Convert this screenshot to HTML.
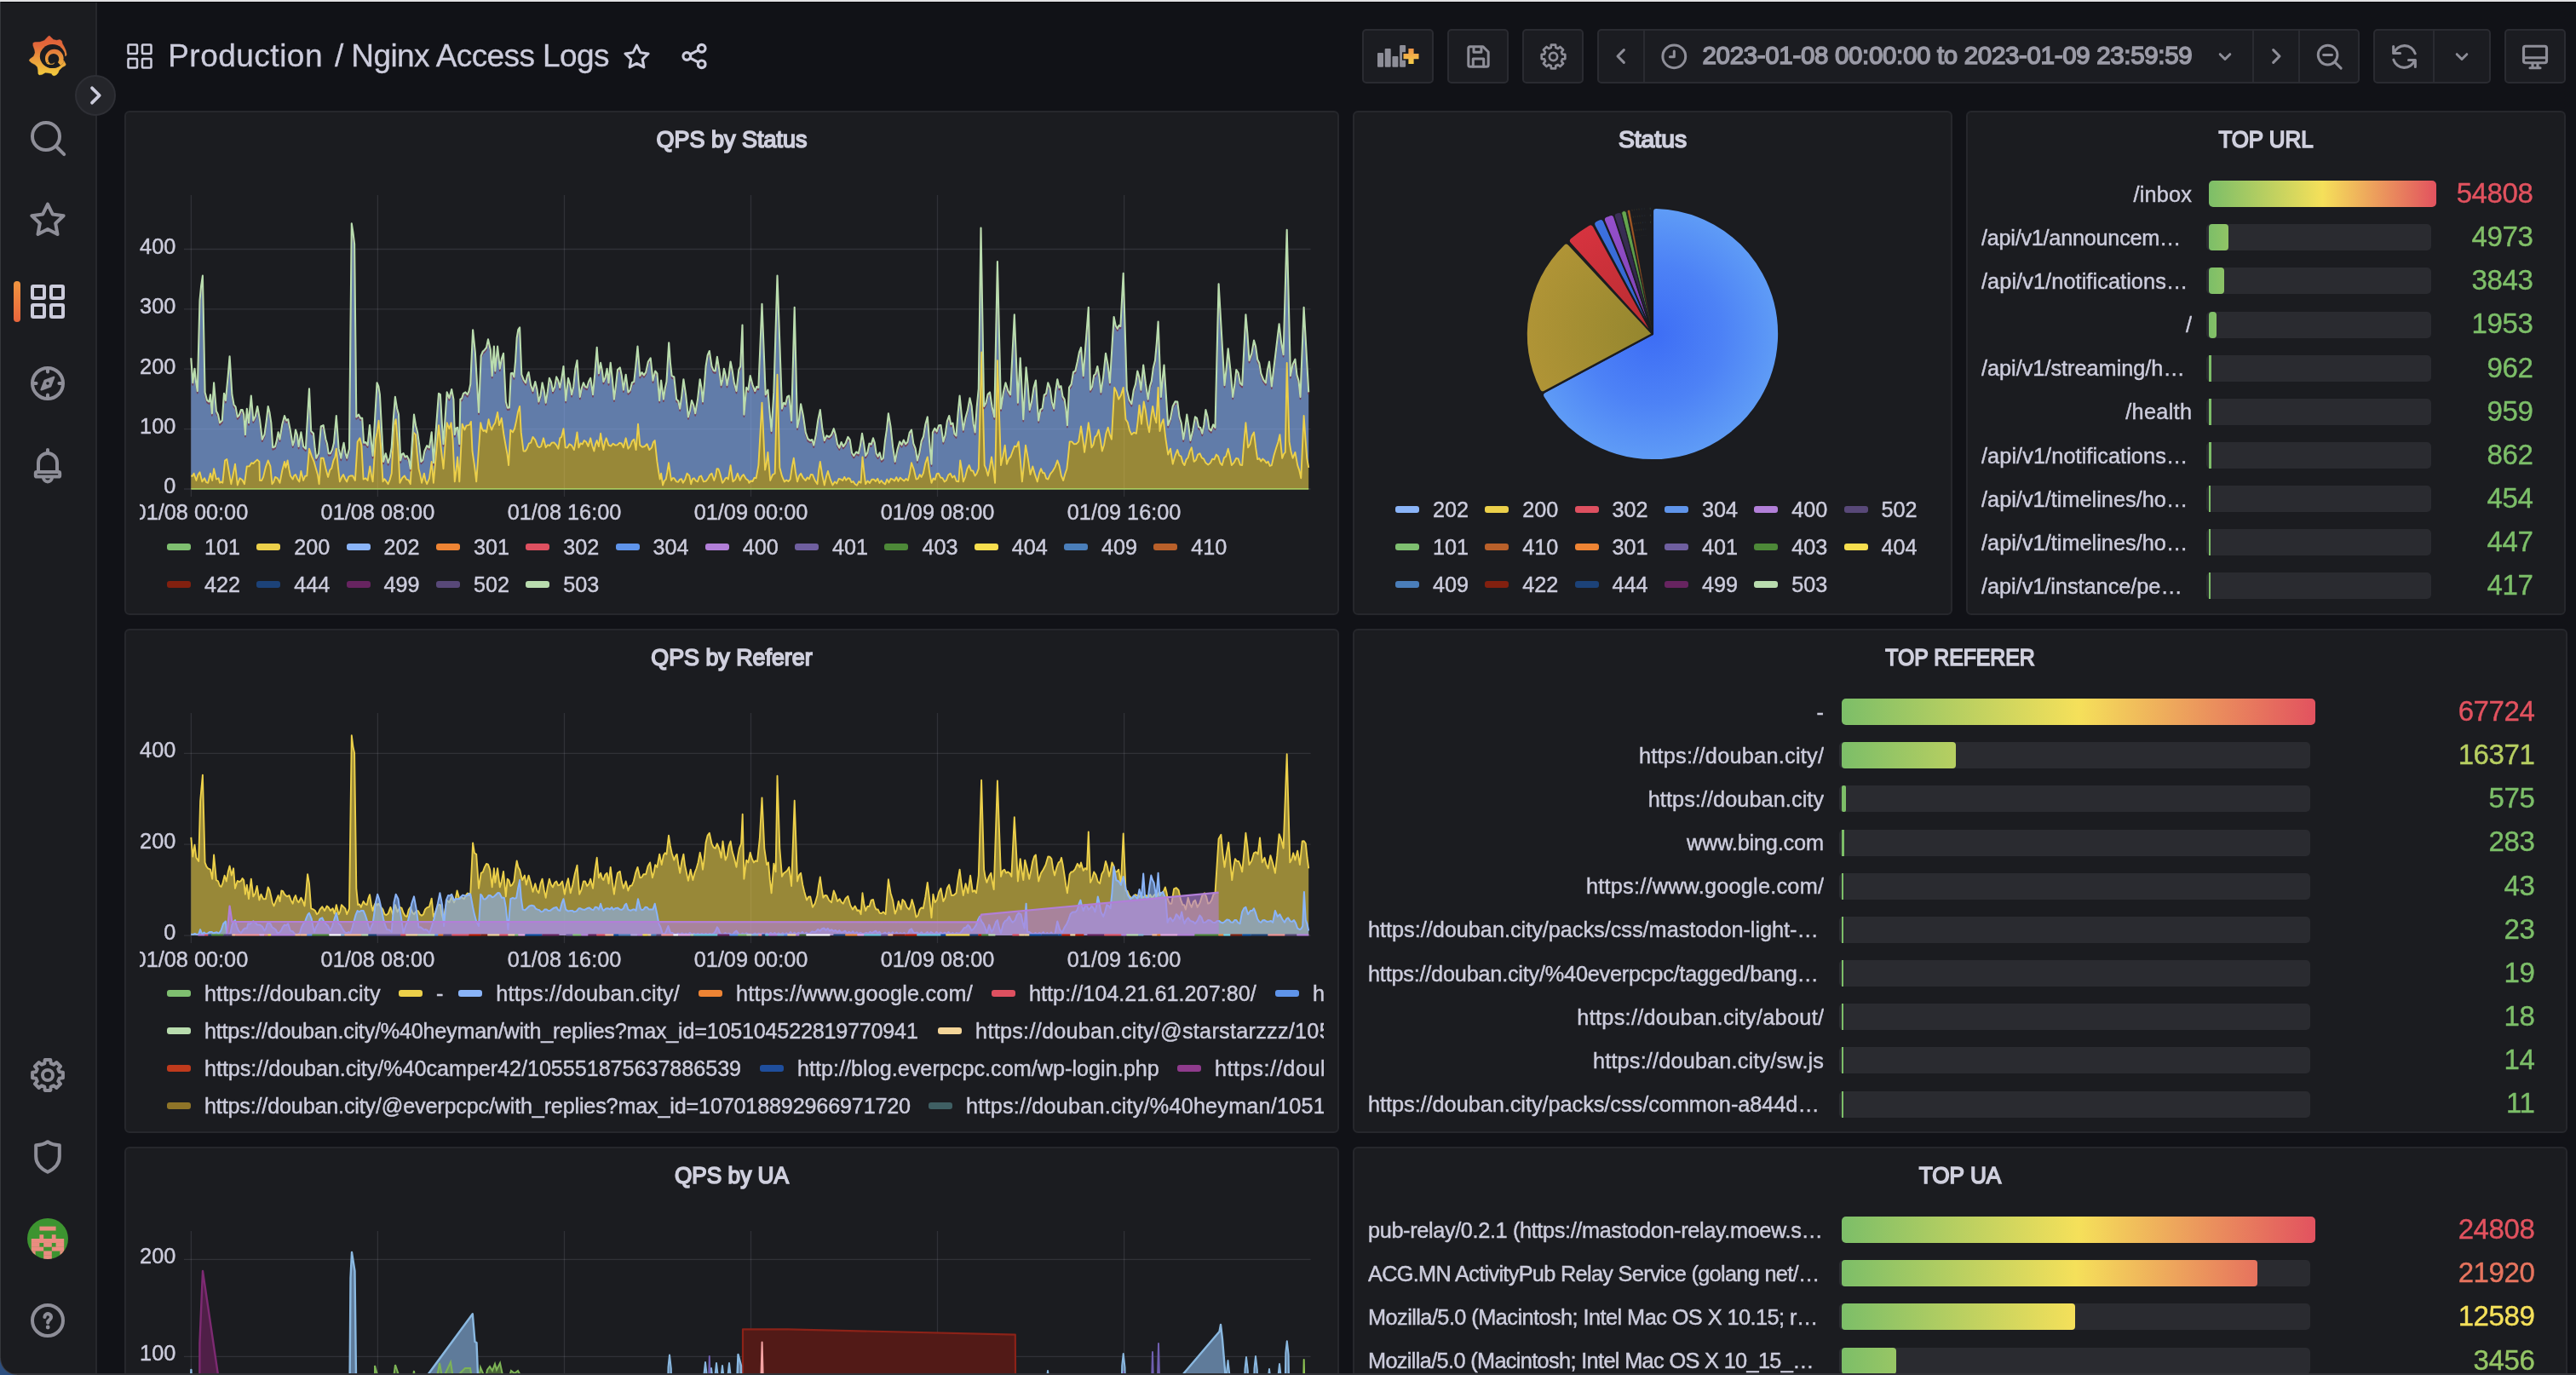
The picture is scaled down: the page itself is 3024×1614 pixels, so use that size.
<!DOCTYPE html>
<html lang="en"><head><meta charset="utf-8"><title>Nginx Access Logs - Grafana</title>
<style>
*{box-sizing:border-box;margin:0;padding:0}
html,body{width:3024px;height:1614px;overflow:hidden;background:#111217;font-family:"Liberation Sans",Arial,sans-serif;color:#ccccdc}
#root{position:absolute;left:0;top:0;width:3024px;height:1614px;overflow:hidden;background:#111217}
#root{will-change:transform}
#root>*{position:absolute}
#topline{left:0;top:0;width:3024px;height:3px;background:linear-gradient(180deg,#dedee0 0,#e6e6e8 1.700px,#05060a 2.300px,#05060a 3px)}
#leftline{left:0;top:2px;width:1px;height:1612px;background:#34363b}
#side{left:1px;top:2px;width:113px;height:1612px;background:#1b1c20;border-right:2px solid #26272c}
#actbar{left:16px;top:330px;width:8px;height:48px;border-radius:4px;background:linear-gradient(180deg,#f09540,#e8653c)}
#toggle{left:88px;top:88px;width:48px;height:48px;border-radius:24px;background:#24252a;border:2px solid #2e2f35}
#toggle svg{position:absolute}
.ic{position:absolute;overflow:visible}
#t1,#t2{top:41px;-webkit-text-stroke:0.3px #ccccdc;font-size:37px;line-height:50px;white-space:nowrap}
#t1{left:197.200px;letter-spacing:0.49px} #t2{left:393px;letter-spacing:-0.593px}
.tb{top:34px;height:64px;background:#1b1c21;border:2px solid #2a2b31;border-radius:5px}
.sep{top:36px;width:2px;height:60px;background:#2a2b31}
#tr{left:1998.5px;top:45px;font-size:29.5px;line-height:40px;font-weight:400;-webkit-text-stroke:1.5px #9a9aa6;color:#9a9aa6;white-space:nowrap;letter-spacing:-0.333px}
.panel{background:#1b1c20;border:2px solid #26272c;border-radius:6px}
.pt{position:absolute;left:0;right:0;top:13px;text-align:center;font-size:28.5px;line-height:36px;font-weight:400;-webkit-text-stroke:1.7px #d0d0de;color:#d0d0de;white-space:nowrap}
.chart{position:absolute;pointer-events:none}
.ax text{stroke:#ccccdc;stroke-width:0.45px;font-size:25.3px;fill:#ccccdc;font-family:"Liberation Sans",Arial,sans-serif}
.lgi{position:absolute;height:44px;display:flex;align-items:center;white-space:nowrap;font-size:25.2px;line-height:44px}
.lgi i{display:block;flex:none;width:28px;height:8px;border-radius:3px;margin-right:16px}
.lgi b{font-weight:400;display:block;-webkit-text-stroke-width:0.45px}
.lgclip{position:absolute;left:0;top:0;width:1554px;height:1346px;overflow:hidden}
.bl{-webkit-text-stroke-width:0.45px;font-size:25.3px;line-height:40px;text-align:right;white-space:nowrap;overflow:hidden}
.bb{height:31px;border-radius:5px;background:#2a2b30}
.bf{height:31px;border-radius:5px}
.bv{-webkit-text-stroke-width:0.4px;letter-spacing:-0.4px;font-size:33px;line-height:44px;text-align:right;white-space:nowrap}
@media (max-width:2000px){html,body{width:1512px;height:807px}#root{zoom:0.5}}
#botline{left:0;top:1612.400px;width:3024px;height:1.600px;background:#323338}
#corner{left:0;top:1594px;width:20px;height:20px;background:radial-gradient(circle at 20px 0px, transparent 18.500px, #3a3c44 19.500px, #2d4f80 20.500px)}
</style></head><body><div id="root">
<div class="panel" style="left:146px;top:130px;width:1426px;height:592px"><div class="pt" style="transform:scaleX(0.9464)">QPS by Status</div></div><div class="panel" style="left:1588px;top:130px;width:704px;height:592px"><div class="pt" style="transform:scaleX(0.9926)">Status</div></div><div class="panel" style="left:2308px;top:130px;width:704px;height:592px"><div class="pt" style="transform:scaleX(0.9078)">TOP URL</div></div><div class="panel" style="left:146px;top:738px;width:1426px;height:592px"><div class="pt" style="transform:scaleX(0.9411)">QPS by Referer</div></div><div class="panel" style="left:1588px;top:738px;width:1426px;height:592px"><div class="pt" style="transform:scaleX(0.8702)">TOP REFERER</div></div><div class="panel" style="left:146px;top:1346px;width:1426px;height:592px"><div class="pt" style="transform:scaleX(0.9203)">QPS by UA</div></div><div class="panel" style="left:1588px;top:1346px;width:1426px;height:592px"><div class="pt" style="transform:scaleX(0.9193)">TOP UA</div></div>

<svg class="chart" style="left:0;top:0" width="3024" height="740" viewBox="0 0 3024 740">
<defs><clipPath id="cl1"><rect x="164" y="200" width="1400" height="430"/></clipPath></defs>
<g stroke="rgba(204,204,220,0.12)" stroke-width="1.3" fill="none"><line x1="224.4" y1="229" x2="224.4" y2="583.0"/><line x1="443.4" y1="229" x2="443.4" y2="583.0"/><line x1="662.5" y1="229" x2="662.5" y2="583.0"/><line x1="881.5" y1="229" x2="881.5" y2="583.0"/><line x1="1100.5" y1="229" x2="1100.5" y2="583.0"/><line x1="1319.6" y1="229" x2="1319.6" y2="583.0"/><line x1="215.9" y1="574.0" x2="1538.6" y2="574.0"/><line x1="215.9" y1="503.6" x2="1538.6" y2="503.6"/><line x1="215.9" y1="433.2" x2="1538.6" y2="433.2"/><line x1="215.9" y1="362.9" x2="1538.6" y2="362.9"/><line x1="215.9" y1="292.5" x2="1538.6" y2="292.5"/></g>
<polygon points="224.3,558.5 226.0,558.8 227.6,555.7 230.4,564.0 232.5,557.2 234.5,554.3 237.3,565.4 240.1,561.3 242.1,566.1 244.2,566.8 247.0,555.7 249.2,564.0 251.1,550.2 253.9,562.6 256.6,561.3 258.0,566.8 259.7,565.6 261.3,566.8 264.1,540.5 266.3,539.1 269.1,555.7 271.3,568.2 273.6,557.3 276.0,544.7 278.8,569.5 281.5,561.3 284.3,563.2 287.0,568.2 289.8,547.4 292.6,547.4 295.3,543.3 297.4,544.0 299.5,541.9 302.0,539.6 304.4,541.9 305.0,564.0 307.1,564.0 309.1,559.9 311.9,548.3 314.7,540.5 317.4,547.4 319.4,568.2 321.2,565.9 323.0,559.9 325.7,561.3 328.5,566.8 331.3,552.3 334.0,541.9 335.4,548.8 337.6,540.5 339.3,550.7 340.9,558.5 343.7,562.6 345.3,558.2 347.0,557.1 349.2,562.4 351.4,565.4 353.4,553.0 356.1,564.0 358.2,558.8 360.3,558.5 363.0,526.7 365.8,535.3 368.6,541.9 371.3,551.6 373.0,557.6 374.6,568.2 376.8,537.8 379.6,537.8 382.4,549.9 385.1,559.9 387.2,551.9 389.3,549.6 391.4,540.7 393.4,536.4 394.8,526.7 396.9,548.4 398.9,565.4 401.0,560.3 403.1,557.1 405.2,562.3 407.2,565.4 409.3,559.5 411.4,558.5 414.1,558.5 416.9,564.0 419.7,518.4 422.4,514.3 424.4,522.6 426.6,562.6 429.3,561.3 431.6,564.0 434.3,547.4 436.0,558.2 437.6,565.4 439.3,539.5 441.0,515.7 442.7,507.2 444.5,493.6 446.8,521.2 449.5,565.4 451.2,562.2 452.8,564.0 455.6,568.2 457.7,563.0 459.7,555.7 462.5,499.1 464.7,492.2 467.5,528.1 469.4,566.8 472.2,561.0 474.9,558.5 477.2,562.9 479.5,563.5 481.8,568.2 485.2,507.4 487.9,510.1 489.7,532.1 491.5,550.2 493.3,557.3 495.1,566.8 497.9,555.7 499.5,564.0 501.2,568.2 504.0,561.3 506.7,541.9 508.9,566.8 515.0,499.1 517.8,526.7 520.5,550.2 522.6,522.3 524.7,496.3 527.4,503.2 529.6,496.3 531.6,517.0 533.8,565.4 535.5,552.1 537.1,536.4 539.3,565.4 542.6,497.7 545.4,504.6 547.5,499.6 549.5,499.1 551.2,498.6 552.9,494.9 554.5,529.5 556.9,545.8 559.2,565.4 564.2,496.3 565.8,503.1 567.5,506.0 569.3,505.0 571.1,507.4 573.6,492.2 575.4,500.0 577.2,504.6 579.2,499.5 581.3,496.3 584.1,483.9 586.0,499.1 588.8,490.8 591.3,509.5 593.8,524.0 595.4,532.5 597.1,546.1 599.3,504.6 602.0,507.4 604.1,503.0 606.2,493.6 608.1,483.2 610.1,477.0 611.7,507.4 614.5,529.5 616.6,529.6 618.6,526.7 620.9,520.6 623.2,519.6 625.5,512.9 628.3,516.4 631.1,524.0 633.1,525.1 635.2,524.0 638.0,514.3 640.7,525.3 643.0,522.2 645.3,523.2 647.6,519.8 650.4,519.4 653.2,522.6 655.4,526.7 657.3,514.3 659.2,512.9 661.5,503.2 663.7,525.3 666.0,525.5 668.4,521.2 671.1,522.9 673.9,528.1 675.7,518.7 677.5,507.4 679.4,525.3 681.5,520.3 683.7,521.4 685.8,517.0 688.1,518.7 690.5,524.0 693.2,514.3 695.3,523.2 697.4,529.5 699.0,521.6 700.7,517.0 702.9,524.0 705.1,508.8 706.8,520.0 708.4,528.1 710.1,519.0 711.7,514.3 714.5,522.6 717.1,523.7 719.7,520.7 722.2,522.6 724.7,522.4 727.2,519.8 729.6,520.5 731.9,525.3 734.7,514.3 737.4,526.7 739.7,524.0 742.0,518.0 744.3,515.7 746.6,528.1 749.0,497.7 751.3,522.6 754.0,524.8 756.8,524.0 759.5,521.2 762.3,528.1 765.1,525.3 766.9,519.2 768.7,517.0 771.4,541.9 773.1,553.3 774.7,562.6 776.1,555.7 778.1,569.5 779.9,564.4 781.7,562.6 783.3,554.2 785.0,543.3 788.0,564.0 789.7,561.2 791.3,561.3 794.1,565.4 796.2,565.7 798.2,562.6 800.0,562.2 801.8,566.8 804.2,563.0 806.5,555.7 809.3,558.5 811.2,568.2 813.0,562.2 814.8,561.3 816.9,564.5 819.0,565.4 821.0,559.5 823.1,558.5 825.9,565.4 828.6,564.9 831.4,561.3 833.5,557.3 835.5,555.7 838.3,564.0 840.0,559.3 841.6,550.2 843.4,550.5 845.2,555.7 848.0,566.8 849.8,564.9 851.6,561.3 853.2,560.6 854.9,562.6 857.6,546.1 860.4,565.4 863.2,562.8 865.9,555.7 868.7,564.0 870.8,559.1 872.8,557.1 875.6,561.9 878.4,564.0 879.3,566.8 881.4,564.5 883.5,565.0 885.6,560.7 887.6,561.3 890.4,546.1 894.5,472.8 898.1,551.6 899.8,543.8 901.4,530.9 904.2,564.0 907.0,557.3 909.7,555.7 912.5,439.7 915.3,548.8 918.0,558.9 920.8,565.4 923.1,563.5 925.4,565.0 927.7,562.6 929.8,548.0 931.8,537.8 933.9,553.9 936.0,565.4 938.1,558.6 940.1,555.7 942.9,561.2 945.7,564.0 947.7,560.5 949.8,562.3 951.9,556.9 953.9,557.1 956.7,564.0 959.5,568.2 961.1,552.5 962.8,541.9 965.3,558.1 967.8,569.5 969.8,560.1 971.9,553.0 974.7,562.7 977.4,569.5 979.9,565.4 982.3,567.5 984.7,561.9 987.1,562.6 989.2,564.1 991.3,559.9 993.3,563.7 995.4,561.3 997.5,561.7 999.5,566.1 1001.6,565.1 1003.7,568.2 1006.0,569.8 1008.3,565.2 1010.6,566.8 1012.5,536.4 1014.3,553.4 1016.1,568.2 1018.5,564.4 1021.0,567.0 1023.4,562.7 1025.8,562.6 1028.0,565.1 1030.2,561.7 1032.4,567.0 1034.6,564.0 1036.8,566.8 1039.1,568.4 1041.3,562.6 1043.5,566.5 1045.7,561.8 1047.9,562.6 1050.1,564.5 1052.3,560.2 1054.5,564.9 1056.7,560.7 1058.9,562.6 1061.3,564.6 1063.6,562.0 1065.9,564.0 1067.9,555.8 1070.0,543.3 1072.8,551.1 1075.5,562.6 1077.6,561.8 1079.7,557.1 1081.7,559.9 1083.8,555.7 1086.3,543.8 1088.8,536.4 1091.1,554.0 1093.5,566.8 1095.6,561.6 1097.6,563.1 1099.7,556.2 1101.8,555.7 1104.1,560.5 1106.4,561.1 1108.7,565.4 1111.0,563.7 1113.3,557.5 1115.6,555.7 1118.0,560.6 1120.4,558.5 1122.8,564.8 1125.3,565.4 1127.2,540.5 1129.0,551.0 1130.8,565.4 1133.1,560.1 1135.4,550.7 1137.7,546.1 1140.0,552.3 1142.3,552.8 1144.6,558.5 1146.7,555.7 1148.8,550.2 1152.3,413.4 1155.7,546.1 1157.7,550.7 1159.8,558.5 1161.9,548.9 1164.0,536.4 1166.0,549.5 1168.1,566.8 1170.9,423.1 1175.0,546.1 1177.4,535.5 1179.7,522.6 1181.9,544.7 1184.2,538.5 1186.5,536.0 1188.8,529.5 1191.1,523.7 1193.4,524.3 1195.7,518.4 1197.8,539.9 1199.9,565.4 1201.9,546.5 1204.0,522.6 1206.8,538.3 1209.5,557.1 1212.3,547.4 1215.1,557.4 1217.8,565.4 1219.9,556.1 1222.0,550.2 1224.1,555.0 1226.1,555.2 1228.2,561.6 1230.3,562.6 1233.0,556.3 1235.8,553.0 1238.6,548.1 1241.3,540.5 1243.6,546.9 1245.9,558.7 1248.2,564.0 1250.3,556.2 1252.4,550.2 1254.0,535.8 1255.7,518.4 1258.2,518.4 1260.7,521.2 1263.4,521.1 1266.2,518.4 1269.0,500.5 1271.0,514.0 1273.1,530.9 1275.4,514.9 1277.8,496.3 1279.6,508.4 1281.4,525.3 1283.5,521.9 1285.5,512.9 1287.6,511.0 1289.7,504.6 1291.7,515.3 1293.8,529.5 1296.1,522.2 1298.4,508.7 1300.7,501.8 1302.8,510.1 1304.9,515.7 1308.2,454.9 1310.7,460.1 1313.2,468.7 1315.9,464.1 1318.7,454.9 1321.5,492.2 1323.8,495.8 1326.1,505.4 1328.4,510.1 1331.1,507.6 1333.9,508.8 1335.7,494.4 1337.5,475.6 1340.0,497.7 1342.7,471.5 1344.8,481.8 1347.0,497.4 1349.1,507.4 1351.2,490.1 1353.2,477.0 1355.3,489.2 1357.4,496.3 1359.6,454.9 1361.5,506.0 1363.6,497.2 1365.7,492.2 1368.4,515.0 1371.2,533.6 1374.0,526.7 1376.7,544.7 1379.5,534.9 1382.2,528.1 1384.3,534.7 1386.4,535.6 1388.5,543.3 1390.5,546.1 1392.6,539.4 1394.7,537.1 1396.8,529.4 1398.8,525.3 1401.6,541.9 1403.9,540.0 1406.2,533.6 1408.5,532.2 1410.8,537.3 1413.1,538.6 1415.4,543.3 1418.2,545.6 1420.9,543.3 1423.2,538.7 1425.5,539.3 1427.8,533.6 1430.1,535.8 1432.4,543.5 1434.7,546.1 1437.0,537.2 1439.3,535.6 1441.7,526.7 1443.7,534.9 1445.8,546.1 1448.6,543.0 1451.3,537.8 1453.6,538.5 1455.9,545.6 1458.2,546.1 1460.3,519.2 1462.4,496.3 1465.1,525.3 1467.4,521.6 1469.7,511.8 1472.0,507.4 1474.1,525.2 1476.2,539.1 1478.3,538.1 1480.3,541.4 1482.4,538.6 1484.5,540.5 1486.6,543.5 1488.6,541.7 1490.7,546.9 1492.8,546.1 1495.5,534.5 1498.3,525.3 1500.4,519.0 1502.4,510.1 1505.2,537.8 1507.0,533.0 1508.8,530.9 1510.7,425.9 1513.5,518.4 1515.6,530.6 1517.6,537.8 1520.4,530.9 1523.2,546.1 1525.2,551.9 1527.3,561.3 1530.6,488.0 1532.4,513.9 1534.2,537.8 1536.2,548.8 1536.2,574.0 224.3,574.0" fill="rgba(236,208,74,0.60)"/>
<polygon points="224.3,420.3 226.3,449.3 228.5,432.8 230.1,448.6 231.8,459.0 234.5,352.6 236.2,335.1 237.9,323.6 240.6,460.4 243.1,469.9 245.6,471.5 247.0,463.2 248.9,485.3 251.1,449.3 253.9,482.5 256.0,486.7 258.0,496.3 260.8,493.6 263.0,461.8 264.9,470.1 267.7,441.1 269.6,418.4 272.4,463.2 274.5,474.8 276.6,477.6 278.8,489.4 280.8,487.2 282.9,481.1 284.6,481.0 286.2,486.6 287.9,510.1 289.8,479.7 292.0,496.3 294.8,464.5 297.3,493.6 299.8,488.5 302.2,477.0 305.0,492.7 307.8,515.7 310.5,510.1 312.6,495.3 314.7,477.0 316.5,484.3 318.3,496.3 320.2,525.3 323.0,524.0 324.8,517.4 326.6,507.4 328.5,515.7 331.3,498.2 334.0,488.0 336.1,493.5 338.2,492.2 340.9,505.8 343.7,522.6 345.3,517.7 347.0,504.6 348.8,510.2 350.6,524.0 353.4,507.4 356.1,524.0 358.9,526.7 363.0,456.3 365.2,506.0 368.0,508.8 369.7,526.5 371.3,537.8 374.1,532.2 376.8,500.5 379.6,499.1 382.4,515.7 384.0,520.8 385.7,532.2 387.9,532.2 390.0,527.9 392.0,519.8 394.8,488.0 397.6,526.7 400.3,537.8 402.0,527.3 403.6,519.8 405.4,531.7 407.2,537.8 410.0,526.7 412.8,262.3 414.4,272.7 416.1,286.3 418.3,489.4 421.1,486.6 423.1,490.7 425.2,490.8 427.1,519.8 429.3,519.1 431.6,522.6 434.0,499.1 435.8,518.6 437.6,535.0 442.6,449.3 444.3,453.5 445.9,463.2 450.1,541.9 452.8,532.2 455.6,543.3 457.7,537.0 459.7,525.3 461.8,491.9 463.9,465.9 466.0,479.2 468.0,486.6 470.2,540.5 471.9,533.2 473.6,532.2 475.6,536.5 477.7,535.0 479.8,539.3 481.8,550.2 486.0,486.6 488.1,499.7 490.1,507.4 492.2,522.4 494.3,541.9 496.4,539.9 498.4,529.5 501.2,523.2 504.0,525.3 506.7,507.4 508.9,543.3 515.0,461.8 516.9,463.2 518.7,495.9 520.5,521.2 524.7,460.4 527.4,467.3 530.2,457.1 532.4,468.7 533.8,510.1 535.5,502.6 537.1,501.8 539.3,521.2 540.4,468.7 542.2,467.6 544.0,461.8 546.4,460.4 548.7,463.2 550.5,459.2 552.3,450.7 555.1,387.2 557.8,413.4 562.0,483.9 564.7,417.6 566.8,412.5 568.9,410.7 571.0,408.0 573.0,398.2 575.8,410.7 577.7,441.1 579.9,406.5 581.3,435.5 584.1,406.5 586.8,432.8 588.9,421.2 591.0,414.8 593.8,471.5 595.8,478.7 597.9,478.4 599.8,438.3 601.6,437.8 603.4,442.4 605.1,423.7 606.7,396.8 608.4,386.8 610.1,384.4 612.3,439.7 614.8,446.0 617.2,449.3 618.9,441.1 620.6,436.9 623.0,451.9 625.5,459.0 628.3,448.0 630.4,457.0 632.4,471.5 634.5,464.5 636.6,449.3 638.7,458.5 640.7,472.8 642.8,460.0 644.9,443.8 646.9,448.2 649.0,459.0 651.1,454.3 653.2,442.4 655.2,446.4 657.3,454.9 659.4,444.1 661.5,430.0 664.2,470.1 667.0,443.8 669.1,451.1 671.1,463.2 673.2,453.9 675.4,432.9 677.5,423.1 679.1,446.3 680.8,465.9 682.9,455.5 684.9,449.3 687.0,453.9 689.1,454.9 691.2,447.7 693.2,443.8 696.0,463.2 698.3,439.2 700.7,407.9 702.9,438.3 705.1,425.9 706.8,435.0 708.4,448.0 710.5,443.4 712.6,432.8 714.5,449.3 716.7,425.9 718.8,444.6 720.9,468.7 722.9,453.4 725.0,434.1 727.8,431.4 729.8,441.0 731.9,457.6 734.7,439.7 737.4,460.4 739.7,458.1 742.0,448.9 744.3,448.0 746.4,429.0 748.5,406.5 751.3,441.1 753.6,437.1 755.9,440.3 758.2,436.9 760.9,424.5 763.7,420.3 766.5,446.6 769.2,435.5 771.4,438.3 774.2,470.1 776.1,446.6 778.9,468.7 780.7,456.1 782.5,448.0 785.2,402.4 786.9,425.8 788.6,441.1 791.3,442.4 794.1,468.7 796.2,470.6 798.2,479.7 800.3,464.8 802.4,445.2 805.1,463.4 807.9,489.4 810.0,481.8 812.0,470.1 814.1,475.1 816.2,485.3 819.0,469.0 821.7,445.2 823.4,455.1 825.0,471.5 826.8,452.5 828.6,430.0 830.7,416.9 832.8,412.0 835.5,430.0 837.6,434.8 839.7,435.5 841.9,418.9 844.2,433.4 846.6,452.1 848.2,446.0 849.9,432.8 851.7,440.1 853.5,452.1 855.6,440.6 857.6,424.5 859.7,435.2 861.8,449.3 864.5,459.0 867.3,434.1 869.2,430.0 871.5,381.6 873.4,486.6 876.2,454.9 878.4,457.6 880.7,441.1 883.5,451.8 886.3,459.0 888.3,453.9 890.4,454.9 894.5,356.8 898.7,463.2 901.4,457.6 903.5,483.9 905.6,506.0 908.4,460.4 912.5,323.6 918.0,479.7 920.1,472.8 922.2,474.6 924.2,465.6 926.3,464.5 929.1,493.6 932.7,360.9 936.0,501.8 938.1,492.1 940.1,474.2 942.9,488.0 945.7,507.4 948.4,515.2 951.2,517.0 953.3,516.0 955.3,522.6 957.8,510.7 960.3,493.0 962.8,481.1 965.3,503.0 967.8,517.0 970.5,511.3 973.3,512.9 976.1,510.2 978.8,503.2 980.9,510.2 983.0,521.2 985.3,525.6 987.6,519.0 989.9,524.0 992.6,520.4 995.4,512.9 997.7,516.2 1000.0,531.5 1002.3,535.0 1005.1,530.5 1007.8,532.2 1009.9,523.1 1012.0,508.8 1014.0,520.1 1016.1,535.0 1018.3,531.4 1020.5,520.5 1022.8,521.6 1025.0,514.3 1026.8,519.9 1028.6,532.2 1030.6,535.8 1032.7,531.3 1034.8,539.5 1036.8,537.8 1038.9,518.0 1040.9,504.7 1042.9,485.3 1045.5,500.7 1048.1,524.7 1050.7,541.9 1053.4,528.1 1056.2,518.4 1058.5,522.3 1060.8,516.5 1063.1,521.2 1065.4,518.8 1067.7,507.9 1070.0,504.6 1072.3,520.6 1074.6,526.5 1076.9,540.5 1079.3,531.8 1081.7,517.9 1084.0,512.5 1086.4,498.0 1088.8,489.4 1091.1,519.0 1093.5,544.7 1094.9,507.4 1097.3,502.8 1099.7,506.3 1102.1,499.3 1104.5,499.1 1107.3,518.4 1109.6,510.8 1111.9,494.3 1114.2,488.0 1116.3,498.0 1118.4,496.5 1120.4,509.0 1122.5,511.5 1124.6,485.0 1126.6,464.5 1128.7,486.4 1130.8,504.6 1133.4,490.6 1136.0,481.3 1138.5,467.3 1140.6,476.7 1142.6,497.4 1144.6,507.4 1146.7,477.7 1148.8,456.3 1151.5,267.5 1155.1,477.0 1157.4,473.0 1159.7,462.7 1162.0,460.4 1164.6,477.7 1167.3,489.4 1170.9,307.0 1175.0,479.7 1177.8,461.1 1180.5,449.3 1183.3,458.6 1186.1,463.2 1190.8,369.2 1194.9,472.8 1197.7,420.3 1201.3,492.2 1204.6,431.4 1206.6,452.1 1208.7,481.1 1211.1,471.3 1213.5,455.1 1215.9,446.6 1217.6,473.6 1219.2,493.6 1221.4,480.8 1223.6,479.4 1225.8,463.6 1228.1,461.8 1230.3,449.3 1232.6,455.5 1234.9,472.0 1237.2,479.7 1239.2,459.1 1241.3,445.2 1243.4,455.0 1245.5,453.1 1247.5,465.4 1249.6,468.7 1251.3,480.3 1252.9,499.1 1255.1,454.9 1257.6,451.1 1260.0,436.6 1262.4,435.3 1264.8,424.5 1266.9,413.7 1269.0,407.9 1271.7,441.1 1277.8,360.9 1280.0,457.6 1282.1,453.8 1284.2,440.7 1286.2,438.6 1288.3,430.0 1290.4,442.0 1292.4,460.4 1295.2,441.8 1298.0,414.8 1300.5,428.2 1302.9,449.3 1307.6,372.0 1309.7,382.3 1311.8,385.8 1313.6,381.9 1315.4,383.0 1318.7,320.9 1322.8,457.6 1325.6,469.4 1328.4,474.2 1330.7,458.3 1333.0,451.1 1335.3,435.5 1337.3,442.8 1339.4,457.6 1342.2,428.6 1344.9,450.4 1347.7,468.7 1349.8,453.8 1351.8,447.4 1353.9,431.4 1356.0,423.1 1357.8,403.1 1359.6,377.5 1362.9,465.9 1364.7,445.2 1366.5,428.6 1371.2,499.1 1374.0,491.4 1376.7,477.0 1379.5,471.4 1382.2,471.5 1384.5,489.3 1386.8,496.9 1389.2,515.7 1391.2,503.3 1393.3,486.6 1395.4,500.3 1397.4,517.0 1400.2,505.5 1403.0,489.4 1405.0,490.9 1407.1,501.1 1409.2,502.0 1411.3,508.8 1413.3,498.9 1415.4,481.1 1417.5,488.9 1419.5,503.2 1421.8,505.4 1424.2,498.4 1426.5,501.8 1430.6,333.3 1437.5,452.1 1439.6,433.1 1441.7,409.3 1444.4,434.3 1447.2,465.9 1449.3,452.0 1451.3,434.1 1453.6,437.5 1455.9,449.8 1458.2,452.1 1462.4,369.2 1464.4,392.2 1466.5,423.1 1469.3,415.2 1472.0,399.6 1474.1,406.8 1476.2,422.0 1478.3,426.3 1480.3,438.3 1483.1,445.7 1485.9,449.3 1487.9,434.1 1490.0,424.5 1492.8,453.5 1501.6,380.3 1504.1,402.0 1506.6,416.2 1510.7,269.7 1514.9,441.1 1517.6,427.6 1520.4,421.7 1522.4,439.9 1524.5,447.1 1526.5,465.9 1530.6,360.9 1536.2,460.4 1536.2,548.8 1534.2,537.8 1532.4,513.9 1530.6,488.0 1527.3,561.3 1525.2,551.9 1523.2,546.1 1520.4,530.9 1517.6,537.8 1515.6,530.6 1513.5,518.4 1510.7,425.9 1508.8,530.9 1507.0,533.0 1505.2,537.8 1502.4,510.1 1500.4,519.0 1498.3,525.3 1495.5,534.5 1492.8,546.1 1490.7,546.9 1488.6,541.7 1486.6,543.5 1484.5,540.5 1482.4,538.6 1480.3,541.4 1478.3,538.1 1476.2,539.1 1474.1,525.2 1472.0,507.4 1469.7,511.8 1467.4,521.6 1465.1,525.3 1462.4,496.3 1460.3,519.2 1458.2,546.1 1455.9,545.6 1453.6,538.5 1451.3,537.8 1448.6,543.0 1445.8,546.1 1443.7,534.9 1441.7,526.7 1439.3,535.6 1437.0,537.2 1434.7,546.1 1432.4,543.5 1430.1,535.8 1427.8,533.6 1425.5,539.3 1423.2,538.7 1420.9,543.3 1418.2,545.6 1415.4,543.3 1413.1,538.6 1410.8,537.3 1408.5,532.2 1406.2,533.6 1403.9,540.0 1401.6,541.9 1398.8,525.3 1396.8,529.4 1394.7,537.1 1392.6,539.4 1390.5,546.1 1388.5,543.3 1386.4,535.6 1384.3,534.7 1382.2,528.1 1379.5,534.9 1376.7,544.7 1374.0,526.7 1371.2,533.6 1368.4,515.0 1365.7,492.2 1363.6,497.2 1361.5,506.0 1359.6,454.9 1357.4,496.3 1355.3,489.2 1353.2,477.0 1351.2,490.1 1349.1,507.4 1347.0,497.4 1344.8,481.8 1342.7,471.5 1340.0,497.7 1337.5,475.6 1335.7,494.4 1333.9,508.8 1331.1,507.6 1328.4,510.1 1326.1,505.4 1323.8,495.8 1321.5,492.2 1318.7,454.9 1315.9,464.1 1313.2,468.7 1310.7,460.1 1308.2,454.9 1304.9,515.7 1302.8,510.1 1300.7,501.8 1298.4,508.7 1296.1,522.2 1293.8,529.5 1291.7,515.3 1289.7,504.6 1287.6,511.0 1285.5,512.9 1283.5,521.9 1281.4,525.3 1279.6,508.4 1277.8,496.3 1275.4,514.9 1273.1,530.9 1271.0,514.0 1269.0,500.5 1266.2,518.4 1263.4,521.1 1260.7,521.2 1258.2,518.4 1255.7,518.4 1254.0,535.8 1252.4,550.2 1250.3,556.2 1248.2,564.0 1245.9,558.7 1243.6,546.9 1241.3,540.5 1238.6,548.1 1235.8,553.0 1233.0,556.3 1230.3,562.6 1228.2,561.6 1226.1,555.2 1224.1,555.0 1222.0,550.2 1219.9,556.1 1217.8,565.4 1215.1,557.4 1212.3,547.4 1209.5,557.1 1206.8,538.3 1204.0,522.6 1201.9,546.5 1199.9,565.4 1197.8,539.9 1195.7,518.4 1193.4,524.3 1191.1,523.7 1188.8,529.5 1186.5,536.0 1184.2,538.5 1181.9,544.7 1179.7,522.6 1177.4,535.5 1175.0,546.1 1170.9,423.1 1168.1,566.8 1166.0,549.5 1164.0,536.4 1161.9,548.9 1159.8,558.5 1157.7,550.7 1155.7,546.1 1152.3,413.4 1148.8,550.2 1146.7,555.7 1144.6,558.5 1142.3,552.8 1140.0,552.3 1137.7,546.1 1135.4,550.7 1133.1,560.1 1130.8,565.4 1129.0,551.0 1127.2,540.5 1125.3,565.4 1122.8,564.8 1120.4,558.5 1118.0,560.6 1115.6,555.7 1113.3,557.5 1111.0,563.7 1108.7,565.4 1106.4,561.1 1104.1,560.5 1101.8,555.7 1099.7,556.2 1097.6,563.1 1095.6,561.6 1093.5,566.8 1091.1,554.0 1088.8,536.4 1086.3,543.8 1083.8,555.7 1081.7,559.9 1079.7,557.1 1077.6,561.8 1075.5,562.6 1072.8,551.1 1070.0,543.3 1067.9,555.8 1065.9,564.0 1063.6,562.0 1061.3,564.6 1058.9,562.6 1056.7,560.7 1054.5,564.9 1052.3,560.2 1050.1,564.5 1047.9,562.6 1045.7,561.8 1043.5,566.5 1041.3,562.6 1039.1,568.4 1036.8,566.8 1034.6,564.0 1032.4,567.0 1030.2,561.7 1028.0,565.1 1025.8,562.6 1023.4,562.7 1021.0,567.0 1018.5,564.4 1016.1,568.2 1014.3,553.4 1012.5,536.4 1010.6,566.8 1008.3,565.2 1006.0,569.8 1003.7,568.2 1001.6,565.1 999.5,566.1 997.5,561.7 995.4,561.3 993.3,563.7 991.3,559.9 989.2,564.1 987.1,562.6 984.7,561.9 982.3,567.5 979.9,565.4 977.4,569.5 974.7,562.7 971.9,553.0 969.8,560.1 967.8,569.5 965.3,558.1 962.8,541.9 961.1,552.5 959.5,568.2 956.7,564.0 953.9,557.1 951.9,556.9 949.8,562.3 947.7,560.5 945.7,564.0 942.9,561.2 940.1,555.7 938.1,558.6 936.0,565.4 933.9,553.9 931.8,537.8 929.8,548.0 927.7,562.6 925.4,565.0 923.1,563.5 920.8,565.4 918.0,558.9 915.3,548.8 912.5,439.7 909.7,555.7 907.0,557.3 904.2,564.0 901.4,530.9 899.8,543.8 898.1,551.6 894.5,472.8 890.4,546.1 887.6,561.3 885.6,560.7 883.5,565.0 881.4,564.5 879.3,566.8 878.4,564.0 875.6,561.9 872.8,557.1 870.8,559.1 868.7,564.0 865.9,555.7 863.2,562.8 860.4,565.4 857.6,546.1 854.9,562.6 853.2,560.6 851.6,561.3 849.8,564.9 848.0,566.8 845.2,555.7 843.4,550.5 841.6,550.2 840.0,559.3 838.3,564.0 835.5,555.7 833.5,557.3 831.4,561.3 828.6,564.9 825.9,565.4 823.1,558.5 821.0,559.5 819.0,565.4 816.9,564.5 814.8,561.3 813.0,562.2 811.2,568.2 809.3,558.5 806.5,555.7 804.2,563.0 801.8,566.8 800.0,562.2 798.2,562.6 796.2,565.7 794.1,565.4 791.3,561.3 789.7,561.2 788.0,564.0 785.0,543.3 783.3,554.2 781.7,562.6 779.9,564.4 778.1,569.5 776.1,555.7 774.7,562.6 773.1,553.3 771.4,541.9 768.7,517.0 766.9,519.2 765.1,525.3 762.3,528.1 759.5,521.2 756.8,524.0 754.0,524.8 751.3,522.6 749.0,497.7 746.6,528.1 744.3,515.7 742.0,518.0 739.7,524.0 737.4,526.7 734.7,514.3 731.9,525.3 729.6,520.5 727.2,519.8 724.7,522.4 722.2,522.6 719.7,520.7 717.1,523.7 714.5,522.6 711.7,514.3 710.1,519.0 708.4,528.1 706.8,520.0 705.1,508.8 702.9,524.0 700.7,517.0 699.0,521.6 697.4,529.5 695.3,523.2 693.2,514.3 690.5,524.0 688.1,518.7 685.8,517.0 683.7,521.4 681.5,520.3 679.4,525.3 677.5,507.4 675.7,518.7 673.9,528.1 671.1,522.9 668.4,521.2 666.0,525.5 663.7,525.3 661.5,503.2 659.2,512.9 657.3,514.3 655.4,526.7 653.2,522.6 650.4,519.4 647.6,519.8 645.3,523.2 643.0,522.2 640.7,525.3 638.0,514.3 635.2,524.0 633.1,525.1 631.1,524.0 628.3,516.4 625.5,512.9 623.2,519.6 620.9,520.6 618.6,526.7 616.6,529.6 614.5,529.5 611.7,507.4 610.1,477.0 608.1,483.2 606.2,493.6 604.1,503.0 602.0,507.4 599.3,504.6 597.1,546.1 595.4,532.5 593.8,524.0 591.3,509.5 588.8,490.8 586.0,499.1 584.1,483.9 581.3,496.3 579.2,499.5 577.2,504.6 575.4,500.0 573.6,492.2 571.1,507.4 569.3,505.0 567.5,506.0 565.8,503.1 564.2,496.3 559.2,565.4 556.9,545.8 554.5,529.5 552.9,494.9 551.2,498.6 549.5,499.1 547.5,499.6 545.4,504.6 542.6,497.7 539.3,565.4 537.1,536.4 535.5,552.1 533.8,565.4 531.6,517.0 529.6,496.3 527.4,503.2 524.7,496.3 522.6,522.3 520.5,550.2 517.8,526.7 515.0,499.1 508.9,566.8 506.7,541.9 504.0,561.3 501.2,568.2 499.5,564.0 497.9,555.7 495.1,566.8 493.3,557.3 491.5,550.2 489.7,532.1 487.9,510.1 485.2,507.4 481.8,568.2 479.5,563.5 477.2,562.9 474.9,558.5 472.2,561.0 469.4,566.8 467.5,528.1 464.7,492.2 462.5,499.1 459.7,555.7 457.7,563.0 455.6,568.2 452.8,564.0 451.2,562.2 449.5,565.4 446.8,521.2 444.5,493.6 442.7,507.2 441.0,515.7 439.3,539.5 437.6,565.4 436.0,558.2 434.3,547.4 431.6,564.0 429.3,561.3 426.6,562.6 424.4,522.6 422.4,514.3 419.7,518.4 416.9,564.0 414.1,558.5 411.4,558.5 409.3,559.5 407.2,565.4 405.2,562.3 403.1,557.1 401.0,560.3 398.9,565.4 396.9,548.4 394.8,526.7 393.4,536.4 391.4,540.7 389.3,549.6 387.2,551.9 385.1,559.9 382.4,549.9 379.6,537.8 376.8,537.8 374.6,568.2 373.0,557.6 371.3,551.6 368.6,541.9 365.8,535.3 363.0,526.7 360.3,558.5 358.2,558.8 356.1,564.0 353.4,553.0 351.4,565.4 349.2,562.4 347.0,557.1 345.3,558.2 343.7,562.6 340.9,558.5 339.3,550.7 337.6,540.5 335.4,548.8 334.0,541.9 331.3,552.3 328.5,566.8 325.7,561.3 323.0,559.9 321.2,565.9 319.4,568.2 317.4,547.4 314.7,540.5 311.9,548.3 309.1,559.9 307.1,564.0 305.0,564.0 304.4,541.9 302.0,539.6 299.5,541.9 297.4,544.0 295.3,543.3 292.6,547.4 289.8,547.4 287.0,568.2 284.3,563.2 281.5,561.3 278.8,569.5 276.0,544.7 273.6,557.3 271.3,568.2 269.1,555.7 266.3,539.1 264.1,540.5 261.3,566.8 259.7,565.6 258.0,566.8 256.6,561.3 253.9,562.6 251.1,550.2 249.2,564.0 247.0,555.7 244.2,566.8 242.1,566.1 240.1,561.3 237.3,565.4 234.5,554.3 232.5,557.2 230.4,564.0 227.6,555.7 226.0,558.8 224.3,558.5" fill="rgba(138,180,248,0.635)"/>
<polyline points="224.3,558.5 226.0,558.8 227.6,555.7 230.4,564.0 232.5,557.2 234.5,554.3 237.3,565.4 240.1,561.3 242.1,566.1 244.2,566.8 247.0,555.7 249.2,564.0 251.1,550.2 253.9,562.6 256.6,561.3 258.0,566.8 259.7,565.6 261.3,566.8 264.1,540.5 266.3,539.1 269.1,555.7 271.3,568.2 273.6,557.3 276.0,544.7 278.8,569.5 281.5,561.3 284.3,563.2 287.0,568.2 289.8,547.4 292.6,547.4 295.3,543.3 297.4,544.0 299.5,541.9 302.0,539.6 304.4,541.9 305.0,564.0 307.1,564.0 309.1,559.9 311.9,548.3 314.7,540.5 317.4,547.4 319.4,568.2 321.2,565.9 323.0,559.9 325.7,561.3 328.5,566.8 331.3,552.3 334.0,541.9 335.4,548.8 337.6,540.5 339.3,550.7 340.9,558.5 343.7,562.6 345.3,558.2 347.0,557.1 349.2,562.4 351.4,565.4 353.4,553.0 356.1,564.0 358.2,558.8 360.3,558.5 363.0,526.7 365.8,535.3 368.6,541.9 371.3,551.6 373.0,557.6 374.6,568.2 376.8,537.8 379.6,537.8 382.4,549.9 385.1,559.9 387.2,551.9 389.3,549.6 391.4,540.7 393.4,536.4 394.8,526.7 396.9,548.4 398.9,565.4 401.0,560.3 403.1,557.1 405.2,562.3 407.2,565.4 409.3,559.5 411.4,558.5 414.1,558.5 416.9,564.0 419.7,518.4 422.4,514.3 424.4,522.6 426.6,562.6 429.3,561.3 431.6,564.0 434.3,547.4 436.0,558.2 437.6,565.4 439.3,539.5 441.0,515.7 442.7,507.2 444.5,493.6 446.8,521.2 449.5,565.4 451.2,562.2 452.8,564.0 455.6,568.2 457.7,563.0 459.7,555.7 462.5,499.1 464.7,492.2 467.5,528.1 469.4,566.8 472.2,561.0 474.9,558.5 477.2,562.9 479.5,563.5 481.8,568.2 485.2,507.4 487.9,510.1 489.7,532.1 491.5,550.2 493.3,557.3 495.1,566.8 497.9,555.7 499.5,564.0 501.2,568.2 504.0,561.3 506.7,541.9 508.9,566.8 515.0,499.1 517.8,526.7 520.5,550.2 522.6,522.3 524.7,496.3 527.4,503.2 529.6,496.3 531.6,517.0 533.8,565.4 535.5,552.1 537.1,536.4 539.3,565.4 542.6,497.7 545.4,504.6 547.5,499.6 549.5,499.1 551.2,498.6 552.9,494.9 554.5,529.5 556.9,545.8 559.2,565.4 564.2,496.3 565.8,503.1 567.5,506.0 569.3,505.0 571.1,507.4 573.6,492.2 575.4,500.0 577.2,504.6 579.2,499.5 581.3,496.3 584.1,483.9 586.0,499.1 588.8,490.8 591.3,509.5 593.8,524.0 595.4,532.5 597.1,546.1 599.3,504.6 602.0,507.4 604.1,503.0 606.2,493.6 608.1,483.2 610.1,477.0 611.7,507.4 614.5,529.5 616.6,529.6 618.6,526.7 620.9,520.6 623.2,519.6 625.5,512.9 628.3,516.4 631.1,524.0 633.1,525.1 635.2,524.0 638.0,514.3 640.7,525.3 643.0,522.2 645.3,523.2 647.6,519.8 650.4,519.4 653.2,522.6 655.4,526.7 657.3,514.3 659.2,512.9 661.5,503.2 663.7,525.3 666.0,525.5 668.4,521.2 671.1,522.9 673.9,528.1 675.7,518.7 677.5,507.4 679.4,525.3 681.5,520.3 683.7,521.4 685.8,517.0 688.1,518.7 690.5,524.0 693.2,514.3 695.3,523.2 697.4,529.5 699.0,521.6 700.7,517.0 702.9,524.0 705.1,508.8 706.8,520.0 708.4,528.1 710.1,519.0 711.7,514.3 714.5,522.6 717.1,523.7 719.7,520.7 722.2,522.6 724.7,522.4 727.2,519.8 729.6,520.5 731.9,525.3 734.7,514.3 737.4,526.7 739.7,524.0 742.0,518.0 744.3,515.7 746.6,528.1 749.0,497.7 751.3,522.6 754.0,524.8 756.8,524.0 759.5,521.2 762.3,528.1 765.1,525.3 766.9,519.2 768.7,517.0 771.4,541.9 773.1,553.3 774.7,562.6 776.1,555.7 778.1,569.5 779.9,564.4 781.7,562.6 783.3,554.2 785.0,543.3 788.0,564.0 789.7,561.2 791.3,561.3 794.1,565.4 796.2,565.7 798.2,562.6 800.0,562.2 801.8,566.8 804.2,563.0 806.5,555.7 809.3,558.5 811.2,568.2 813.0,562.2 814.8,561.3 816.9,564.5 819.0,565.4 821.0,559.5 823.1,558.5 825.9,565.4 828.6,564.9 831.4,561.3 833.5,557.3 835.5,555.7 838.3,564.0 840.0,559.3 841.6,550.2 843.4,550.5 845.2,555.7 848.0,566.8 849.8,564.9 851.6,561.3 853.2,560.6 854.9,562.6 857.6,546.1 860.4,565.4 863.2,562.8 865.9,555.7 868.7,564.0 870.8,559.1 872.8,557.1 875.6,561.9 878.4,564.0 879.3,566.8 881.4,564.5 883.5,565.0 885.6,560.7 887.6,561.3 890.4,546.1 894.5,472.8 898.1,551.6 899.8,543.8 901.4,530.9 904.2,564.0 907.0,557.3 909.7,555.7 912.5,439.7 915.3,548.8 918.0,558.9 920.8,565.4 923.1,563.5 925.4,565.0 927.7,562.6 929.8,548.0 931.8,537.8 933.9,553.9 936.0,565.4 938.1,558.6 940.1,555.7 942.9,561.2 945.7,564.0 947.7,560.5 949.8,562.3 951.9,556.9 953.9,557.1 956.7,564.0 959.5,568.2 961.1,552.5 962.8,541.9 965.3,558.1 967.8,569.5 969.8,560.1 971.9,553.0 974.7,562.7 977.4,569.5 979.9,565.4 982.3,567.5 984.7,561.9 987.1,562.6 989.2,564.1 991.3,559.9 993.3,563.7 995.4,561.3 997.5,561.7 999.5,566.1 1001.6,565.1 1003.7,568.2 1006.0,569.8 1008.3,565.2 1010.6,566.8 1012.5,536.4 1014.3,553.4 1016.1,568.2 1018.5,564.4 1021.0,567.0 1023.4,562.7 1025.8,562.6 1028.0,565.1 1030.2,561.7 1032.4,567.0 1034.6,564.0 1036.8,566.8 1039.1,568.4 1041.3,562.6 1043.5,566.5 1045.7,561.8 1047.9,562.6 1050.1,564.5 1052.3,560.2 1054.5,564.9 1056.7,560.7 1058.9,562.6 1061.3,564.6 1063.6,562.0 1065.9,564.0 1067.9,555.8 1070.0,543.3 1072.8,551.1 1075.5,562.6 1077.6,561.8 1079.7,557.1 1081.7,559.9 1083.8,555.7 1086.3,543.8 1088.8,536.4 1091.1,554.0 1093.5,566.8 1095.6,561.6 1097.6,563.1 1099.7,556.2 1101.8,555.7 1104.1,560.5 1106.4,561.1 1108.7,565.4 1111.0,563.7 1113.3,557.5 1115.6,555.7 1118.0,560.6 1120.4,558.5 1122.8,564.8 1125.3,565.4 1127.2,540.5 1129.0,551.0 1130.8,565.4 1133.1,560.1 1135.4,550.7 1137.7,546.1 1140.0,552.3 1142.3,552.8 1144.6,558.5 1146.7,555.7 1148.8,550.2 1152.3,413.4 1155.7,546.1 1157.7,550.7 1159.8,558.5 1161.9,548.9 1164.0,536.4 1166.0,549.5 1168.1,566.8 1170.9,423.1 1175.0,546.1 1177.4,535.5 1179.7,522.6 1181.9,544.7 1184.2,538.5 1186.5,536.0 1188.8,529.5 1191.1,523.7 1193.4,524.3 1195.7,518.4 1197.8,539.9 1199.9,565.4 1201.9,546.5 1204.0,522.6 1206.8,538.3 1209.5,557.1 1212.3,547.4 1215.1,557.4 1217.8,565.4 1219.9,556.1 1222.0,550.2 1224.1,555.0 1226.1,555.2 1228.2,561.6 1230.3,562.6 1233.0,556.3 1235.8,553.0 1238.6,548.1 1241.3,540.5 1243.6,546.9 1245.9,558.7 1248.2,564.0 1250.3,556.2 1252.4,550.2 1254.0,535.8 1255.7,518.4 1258.2,518.4 1260.7,521.2 1263.4,521.1 1266.2,518.4 1269.0,500.5 1271.0,514.0 1273.1,530.9 1275.4,514.9 1277.8,496.3 1279.6,508.4 1281.4,525.3 1283.5,521.9 1285.5,512.9 1287.6,511.0 1289.7,504.6 1291.7,515.3 1293.8,529.5 1296.1,522.2 1298.4,508.7 1300.7,501.8 1302.8,510.1 1304.9,515.7 1308.2,454.9 1310.7,460.1 1313.2,468.7 1315.9,464.1 1318.7,454.9 1321.5,492.2 1323.8,495.8 1326.1,505.4 1328.4,510.1 1331.1,507.6 1333.9,508.8 1335.7,494.4 1337.5,475.6 1340.0,497.7 1342.7,471.5 1344.8,481.8 1347.0,497.4 1349.1,507.4 1351.2,490.1 1353.2,477.0 1355.3,489.2 1357.4,496.3 1359.6,454.9 1361.5,506.0 1363.6,497.2 1365.7,492.2 1368.4,515.0 1371.2,533.6 1374.0,526.7 1376.7,544.7 1379.5,534.9 1382.2,528.1 1384.3,534.7 1386.4,535.6 1388.5,543.3 1390.5,546.1 1392.6,539.4 1394.7,537.1 1396.8,529.4 1398.8,525.3 1401.6,541.9 1403.9,540.0 1406.2,533.6 1408.5,532.2 1410.8,537.3 1413.1,538.6 1415.4,543.3 1418.2,545.6 1420.9,543.3 1423.2,538.7 1425.5,539.3 1427.8,533.6 1430.1,535.8 1432.4,543.5 1434.7,546.1 1437.0,537.2 1439.3,535.6 1441.7,526.7 1443.7,534.9 1445.8,546.1 1448.6,543.0 1451.3,537.8 1453.6,538.5 1455.9,545.6 1458.2,546.1 1460.3,519.2 1462.4,496.3 1465.1,525.3 1467.4,521.6 1469.7,511.8 1472.0,507.4 1474.1,525.2 1476.2,539.1 1478.3,538.1 1480.3,541.4 1482.4,538.6 1484.5,540.5 1486.6,543.5 1488.6,541.7 1490.7,546.9 1492.8,546.1 1495.5,534.5 1498.3,525.3 1500.4,519.0 1502.4,510.1 1505.2,537.8 1507.0,533.0 1508.8,530.9 1510.7,425.9 1513.5,518.4 1515.6,530.6 1517.6,537.8 1520.4,530.9 1523.2,546.1 1525.2,551.9 1527.3,561.3 1530.6,488.0 1532.4,513.9 1534.2,537.8 1536.2,548.8" fill="none" stroke="#ecd04a" stroke-width="1.9" stroke-linejoin="round"/>
<polyline points="224.3,422.9 226.3,451.9 228.5,435.4 230.1,451.2 231.8,461.6 234.5,355.2 236.2,337.7 237.9,326.2 240.6,463.0 243.1,472.5 245.6,474.1 247.0,465.8 248.9,487.9 251.1,451.9 253.9,485.1 256.0,489.3 258.0,498.9 260.8,496.2 263.0,464.4 264.9,472.7 267.7,443.7 269.6,421.0 272.4,465.8 274.5,477.4 276.6,480.2 278.8,492.0 280.8,489.8 282.9,483.7 284.6,483.6 286.2,489.2 287.9,512.7 289.8,482.3 292.0,498.9 294.8,467.1 297.3,496.2 299.8,491.1 302.2,479.6 305.0,495.3 307.8,518.3 310.5,512.7 312.6,497.9 314.7,479.6 316.5,486.9 318.3,498.9 320.2,527.9 323.0,526.6 324.8,520.0 326.6,510.0 328.5,518.3 331.3,500.8 334.0,490.6 336.1,496.1 338.2,494.8 340.9,508.4 343.7,525.2 345.3,520.3 347.0,507.2 348.8,512.8 350.6,526.6 353.4,510.0 356.1,526.6 358.9,529.3 363.0,458.9 365.2,508.6 368.0,511.4 369.7,529.1 371.3,540.4 374.1,534.8 376.8,503.1 379.6,501.7 382.4,518.3 384.0,523.4 385.7,534.8 387.9,534.8 390.0,530.5 392.0,522.4 394.8,490.6 397.6,529.3 400.3,540.4 402.0,529.9 403.6,522.4 405.4,534.3 407.2,540.4 410.0,529.3 412.8,264.9 414.4,275.3 416.1,288.9 418.3,492.0 421.1,489.2 423.1,493.3 425.2,493.4 427.1,522.4 429.3,521.7 431.6,525.2 434.0,501.7 435.8,521.2 437.6,537.6 442.6,451.9 444.3,456.1 445.9,465.8 450.1,544.5 452.8,534.8 455.6,545.9 457.7,539.6 459.7,527.9 461.8,494.5 463.9,468.5 466.0,481.8 468.0,489.2 470.2,543.1 471.9,535.8 473.6,534.8 475.6,539.1 477.7,537.6 479.8,541.9 481.8,552.8 486.0,489.2 488.1,502.3 490.1,510.0 492.2,525.0 494.3,544.5 496.4,542.5 498.4,532.1 501.2,525.8 504.0,527.9 506.7,510.0 508.9,545.9 515.0,464.4 516.9,465.8 518.7,498.5 520.5,523.8 524.7,463.0 527.4,469.9 530.2,459.7 532.4,471.3 533.8,512.7 535.5,505.2 537.1,504.4 539.3,523.8 540.4,471.3 542.2,470.2 544.0,464.4 546.4,463.0 548.7,465.8 550.5,461.8 552.3,453.3 555.1,389.8 557.8,416.0 562.0,486.5 564.7,420.2 566.8,415.1 568.9,413.3 571.0,410.6 573.0,400.8 575.8,413.3 577.7,443.7 579.9,409.1 581.3,438.1 584.1,409.1 586.8,435.4 588.9,423.8 591.0,417.4 593.8,474.1 595.8,481.3 597.9,481.0 599.8,440.9 601.6,440.4 603.4,445.0 605.1,426.3 606.7,399.4 608.4,389.4 610.1,387.0 612.3,442.3 614.8,448.6 617.2,451.9 618.9,443.7 620.6,439.5 623.0,454.5 625.5,461.6 628.3,450.6 630.4,459.6 632.4,474.1 634.5,467.1 636.6,451.9 638.7,461.1 640.7,475.4 642.8,462.6 644.9,446.4 646.9,450.8 649.0,461.6 651.1,456.9 653.2,445.0 655.2,449.0 657.3,457.5 659.4,446.7 661.5,432.6 664.2,472.7 667.0,446.4 669.1,453.7 671.1,465.8 673.2,456.5 675.4,435.5 677.5,425.7 679.1,448.9 680.8,468.5 682.9,458.1 684.9,451.9 687.0,456.5 689.1,457.5 691.2,450.3 693.2,446.4 696.0,465.8 698.3,441.8 700.7,410.5 702.9,440.9 705.1,428.5 706.8,437.6 708.4,450.6 710.5,446.0 712.6,435.4 714.5,451.9 716.7,428.5 718.8,447.2 720.9,471.3 722.9,456.0 725.0,436.7 727.8,434.0 729.8,443.6 731.9,460.2 734.7,442.3 737.4,463.0 739.7,460.7 742.0,451.5 744.3,450.6 746.4,431.6 748.5,409.1 751.3,443.7 753.6,439.7 755.9,442.9 758.2,439.5 760.9,427.1 763.7,422.9 766.5,449.2 769.2,438.1 771.4,440.9 774.2,472.7 776.1,449.2 778.9,471.3 780.7,458.7 782.5,450.6 785.2,405.0 786.9,428.4 788.6,443.7 791.3,445.0 794.1,471.3 796.2,473.2 798.2,482.3 800.3,467.4 802.4,447.8 805.1,466.0 807.9,492.0 810.0,484.4 812.0,472.7 814.1,477.7 816.2,487.9 819.0,471.6 821.7,447.8 823.4,457.7 825.0,474.1 826.8,455.1 828.6,432.6 830.7,419.5 832.8,414.6 835.5,432.6 837.6,437.4 839.7,438.1 841.9,421.5 844.2,436.0 846.6,454.7 848.2,448.6 849.9,435.4 851.7,442.7 853.5,454.7 855.6,443.2 857.6,427.1 859.7,437.8 861.8,451.9 864.5,461.6 867.3,436.7 869.2,432.6 871.5,384.2 873.4,489.2 876.2,457.5 878.4,460.2 880.7,443.7 883.5,454.4 886.3,461.6 888.3,456.5 890.4,457.5 894.5,359.4 898.7,465.8 901.4,460.2 903.5,486.5 905.6,508.6 908.4,463.0 912.5,326.2 918.0,482.3 920.1,475.4 922.2,477.2 924.2,468.2 926.3,467.1 929.1,496.2 932.7,363.5 936.0,504.4 938.1,494.7 940.1,476.8 942.9,490.6 945.7,510.0 948.4,517.8 951.2,519.6 953.3,518.6 955.3,525.2 957.8,513.3 960.3,495.6 962.8,483.7 965.3,505.6 967.8,519.6 970.5,513.9 973.3,515.5 976.1,512.8 978.8,505.8 980.9,512.8 983.0,523.8 985.3,528.2 987.6,521.6 989.9,526.6 992.6,523.0 995.4,515.5 997.7,518.8 1000.0,534.1 1002.3,537.6 1005.1,533.1 1007.8,534.8 1009.9,525.7 1012.0,511.4 1014.0,522.7 1016.1,537.6 1018.3,534.0 1020.5,523.1 1022.8,524.2 1025.0,516.9 1026.8,522.5 1028.6,534.8 1030.6,538.4 1032.7,533.9 1034.8,542.1 1036.8,540.4 1038.9,520.6 1040.9,507.3 1042.9,487.9 1045.5,503.3 1048.1,527.3 1050.7,544.5 1053.4,530.7 1056.2,521.0 1058.5,524.9 1060.8,519.1 1063.1,523.8 1065.4,521.4 1067.7,510.5 1070.0,507.2 1072.3,523.2 1074.6,529.1 1076.9,543.1 1079.3,534.4 1081.7,520.5 1084.0,515.1 1086.4,500.6 1088.8,492.0 1091.1,521.6 1093.5,547.3 1094.9,510.0 1097.3,505.4 1099.7,508.9 1102.1,501.9 1104.5,501.7 1107.3,521.0 1109.6,513.4 1111.9,496.9 1114.2,490.6 1116.3,500.6 1118.4,499.1 1120.4,511.6 1122.5,514.1 1124.6,487.6 1126.6,467.1 1128.7,489.0 1130.8,507.2 1133.4,493.2 1136.0,483.9 1138.5,469.9 1140.6,479.3 1142.6,500.0 1144.6,510.0 1146.7,480.3 1148.8,458.9 1151.5,270.1 1155.1,479.6 1157.4,475.6 1159.7,465.3 1162.0,463.0 1164.6,480.3 1167.3,492.0 1170.9,309.6 1175.0,482.3 1177.8,463.7 1180.5,451.9 1183.3,461.2 1186.1,465.8 1190.8,371.8 1194.9,475.4 1197.7,422.9 1201.3,494.8 1204.6,434.0 1206.6,454.7 1208.7,483.7 1211.1,473.9 1213.5,457.7 1215.9,449.2 1217.6,476.2 1219.2,496.2 1221.4,483.4 1223.6,482.0 1225.8,466.2 1228.1,464.4 1230.3,451.9 1232.6,458.1 1234.9,474.6 1237.2,482.3 1239.2,461.7 1241.3,447.8 1243.4,457.6 1245.5,455.7 1247.5,468.0 1249.6,471.3 1251.3,482.9 1252.9,501.7 1255.1,457.5 1257.6,453.7 1260.0,439.2 1262.4,437.9 1264.8,427.1 1266.9,416.3 1269.0,410.5 1271.7,443.7 1277.8,363.5 1280.0,460.2 1282.1,456.4 1284.2,443.3 1286.2,441.2 1288.3,432.6 1290.4,444.6 1292.4,463.0 1295.2,444.4 1298.0,417.4 1300.5,430.8 1302.9,451.9 1307.6,374.6 1309.7,384.9 1311.8,388.4 1313.6,384.5 1315.4,385.6 1318.7,323.5 1322.8,460.2 1325.6,472.0 1328.4,476.8 1330.7,460.9 1333.0,453.7 1335.3,438.1 1337.3,445.4 1339.4,460.2 1342.2,431.2 1344.9,453.0 1347.7,471.3 1349.8,456.4 1351.8,450.0 1353.9,434.0 1356.0,425.7 1357.8,405.7 1359.6,380.1 1362.9,468.5 1364.7,447.8 1366.5,431.2 1371.2,501.7 1374.0,494.0 1376.7,479.6 1379.5,474.0 1382.2,474.1 1384.5,491.9 1386.8,499.5 1389.2,518.3 1391.2,505.9 1393.3,489.2 1395.4,502.9 1397.4,519.6 1400.2,508.1 1403.0,492.0 1405.0,493.5 1407.1,503.7 1409.2,504.6 1411.3,511.4 1413.3,501.5 1415.4,483.7 1417.5,491.5 1419.5,505.8 1421.8,508.0 1424.2,501.0 1426.5,504.4 1430.6,335.9 1437.5,454.7 1439.6,435.7 1441.7,411.9 1444.4,436.9 1447.2,468.5 1449.3,454.6 1451.3,436.7 1453.6,440.1 1455.9,452.4 1458.2,454.7 1462.4,371.8 1464.4,394.8 1466.5,425.7 1469.3,417.8 1472.0,402.2 1474.1,409.4 1476.2,424.6 1478.3,428.9 1480.3,440.9 1483.1,448.3 1485.9,451.9 1487.9,436.7 1490.0,427.1 1492.8,456.1 1501.6,382.9 1504.1,404.6 1506.6,418.8 1510.7,272.3 1514.9,443.7 1517.6,430.2 1520.4,424.3 1522.4,442.5 1524.5,449.7 1526.5,468.5 1530.6,363.5 1536.2,463.0" fill="none" stroke="#7a2a3a" stroke-opacity="0.7" stroke-width="1.6" stroke-linejoin="round"/>
<polyline points="224.3,420.3 226.3,449.3 228.5,432.8 230.1,448.6 231.8,459.0 234.5,352.6 236.2,335.1 237.9,323.6 240.6,460.4 243.1,469.9 245.6,471.5 247.0,463.2 248.9,485.3 251.1,449.3 253.9,482.5 256.0,486.7 258.0,496.3 260.8,493.6 263.0,461.8 264.9,470.1 267.7,441.1 269.6,418.4 272.4,463.2 274.5,474.8 276.6,477.6 278.8,489.4 280.8,487.2 282.9,481.1 284.6,481.0 286.2,486.6 287.9,510.1 289.8,479.7 292.0,496.3 294.8,464.5 297.3,493.6 299.8,488.5 302.2,477.0 305.0,492.7 307.8,515.7 310.5,510.1 312.6,495.3 314.7,477.0 316.5,484.3 318.3,496.3 320.2,525.3 323.0,524.0 324.8,517.4 326.6,507.4 328.5,515.7 331.3,498.2 334.0,488.0 336.1,493.5 338.2,492.2 340.9,505.8 343.7,522.6 345.3,517.7 347.0,504.6 348.8,510.2 350.6,524.0 353.4,507.4 356.1,524.0 358.9,526.7 363.0,456.3 365.2,506.0 368.0,508.8 369.7,526.5 371.3,537.8 374.1,532.2 376.8,500.5 379.6,499.1 382.4,515.7 384.0,520.8 385.7,532.2 387.9,532.2 390.0,527.9 392.0,519.8 394.8,488.0 397.6,526.7 400.3,537.8 402.0,527.3 403.6,519.8 405.4,531.7 407.2,537.8 410.0,526.7 412.8,262.3 414.4,272.7 416.1,286.3 418.3,489.4 421.1,486.6 423.1,490.7 425.2,490.8 427.1,519.8 429.3,519.1 431.6,522.6 434.0,499.1 435.8,518.6 437.6,535.0 442.6,449.3 444.3,453.5 445.9,463.2 450.1,541.9 452.8,532.2 455.6,543.3 457.7,537.0 459.7,525.3 461.8,491.9 463.9,465.9 466.0,479.2 468.0,486.6 470.2,540.5 471.9,533.2 473.6,532.2 475.6,536.5 477.7,535.0 479.8,539.3 481.8,550.2 486.0,486.6 488.1,499.7 490.1,507.4 492.2,522.4 494.3,541.9 496.4,539.9 498.4,529.5 501.2,523.2 504.0,525.3 506.7,507.4 508.9,543.3 515.0,461.8 516.9,463.2 518.7,495.9 520.5,521.2 524.7,460.4 527.4,467.3 530.2,457.1 532.4,468.7 533.8,510.1 535.5,502.6 537.1,501.8 539.3,521.2 540.4,468.7 542.2,467.6 544.0,461.8 546.4,460.4 548.7,463.2 550.5,459.2 552.3,450.7 555.1,387.2 557.8,413.4 562.0,483.9 564.7,417.6 566.8,412.5 568.9,410.7 571.0,408.0 573.0,398.2 575.8,410.7 577.7,441.1 579.9,406.5 581.3,435.5 584.1,406.5 586.8,432.8 588.9,421.2 591.0,414.8 593.8,471.5 595.8,478.7 597.9,478.4 599.8,438.3 601.6,437.8 603.4,442.4 605.1,423.7 606.7,396.8 608.4,386.8 610.1,384.4 612.3,439.7 614.8,446.0 617.2,449.3 618.9,441.1 620.6,436.9 623.0,451.9 625.5,459.0 628.3,448.0 630.4,457.0 632.4,471.5 634.5,464.5 636.6,449.3 638.7,458.5 640.7,472.8 642.8,460.0 644.9,443.8 646.9,448.2 649.0,459.0 651.1,454.3 653.2,442.4 655.2,446.4 657.3,454.9 659.4,444.1 661.5,430.0 664.2,470.1 667.0,443.8 669.1,451.1 671.1,463.2 673.2,453.9 675.4,432.9 677.5,423.1 679.1,446.3 680.8,465.9 682.9,455.5 684.9,449.3 687.0,453.9 689.1,454.9 691.2,447.7 693.2,443.8 696.0,463.2 698.3,439.2 700.7,407.9 702.9,438.3 705.1,425.9 706.8,435.0 708.4,448.0 710.5,443.4 712.6,432.8 714.5,449.3 716.7,425.9 718.8,444.6 720.9,468.7 722.9,453.4 725.0,434.1 727.8,431.4 729.8,441.0 731.9,457.6 734.7,439.7 737.4,460.4 739.7,458.1 742.0,448.9 744.3,448.0 746.4,429.0 748.5,406.5 751.3,441.1 753.6,437.1 755.9,440.3 758.2,436.9 760.9,424.5 763.7,420.3 766.5,446.6 769.2,435.5 771.4,438.3 774.2,470.1 776.1,446.6 778.9,468.7 780.7,456.1 782.5,448.0 785.2,402.4 786.9,425.8 788.6,441.1 791.3,442.4 794.1,468.7 796.2,470.6 798.2,479.7 800.3,464.8 802.4,445.2 805.1,463.4 807.9,489.4 810.0,481.8 812.0,470.1 814.1,475.1 816.2,485.3 819.0,469.0 821.7,445.2 823.4,455.1 825.0,471.5 826.8,452.5 828.6,430.0 830.7,416.9 832.8,412.0 835.5,430.0 837.6,434.8 839.7,435.5 841.9,418.9 844.2,433.4 846.6,452.1 848.2,446.0 849.9,432.8 851.7,440.1 853.5,452.1 855.6,440.6 857.6,424.5 859.7,435.2 861.8,449.3 864.5,459.0 867.3,434.1 869.2,430.0 871.5,381.6 873.4,486.6 876.2,454.9 878.4,457.6 880.7,441.1 883.5,451.8 886.3,459.0 888.3,453.9 890.4,454.9 894.5,356.8 898.7,463.2 901.4,457.6 903.5,483.9 905.6,506.0 908.4,460.4 912.5,323.6 918.0,479.7 920.1,472.8 922.2,474.6 924.2,465.6 926.3,464.5 929.1,493.6 932.7,360.9 936.0,501.8 938.1,492.1 940.1,474.2 942.9,488.0 945.7,507.4 948.4,515.2 951.2,517.0 953.3,516.0 955.3,522.6 957.8,510.7 960.3,493.0 962.8,481.1 965.3,503.0 967.8,517.0 970.5,511.3 973.3,512.9 976.1,510.2 978.8,503.2 980.9,510.2 983.0,521.2 985.3,525.6 987.6,519.0 989.9,524.0 992.6,520.4 995.4,512.9 997.7,516.2 1000.0,531.5 1002.3,535.0 1005.1,530.5 1007.8,532.2 1009.9,523.1 1012.0,508.8 1014.0,520.1 1016.1,535.0 1018.3,531.4 1020.5,520.5 1022.8,521.6 1025.0,514.3 1026.8,519.9 1028.6,532.2 1030.6,535.8 1032.7,531.3 1034.8,539.5 1036.8,537.8 1038.9,518.0 1040.9,504.7 1042.9,485.3 1045.5,500.7 1048.1,524.7 1050.7,541.9 1053.4,528.1 1056.2,518.4 1058.5,522.3 1060.8,516.5 1063.1,521.2 1065.4,518.8 1067.7,507.9 1070.0,504.6 1072.3,520.6 1074.6,526.5 1076.9,540.5 1079.3,531.8 1081.7,517.9 1084.0,512.5 1086.4,498.0 1088.8,489.4 1091.1,519.0 1093.5,544.7 1094.9,507.4 1097.3,502.8 1099.7,506.3 1102.1,499.3 1104.5,499.1 1107.3,518.4 1109.6,510.8 1111.9,494.3 1114.2,488.0 1116.3,498.0 1118.4,496.5 1120.4,509.0 1122.5,511.5 1124.6,485.0 1126.6,464.5 1128.7,486.4 1130.8,504.6 1133.4,490.6 1136.0,481.3 1138.5,467.3 1140.6,476.7 1142.6,497.4 1144.6,507.4 1146.7,477.7 1148.8,456.3 1151.5,267.5 1155.1,477.0 1157.4,473.0 1159.7,462.7 1162.0,460.4 1164.6,477.7 1167.3,489.4 1170.9,307.0 1175.0,479.7 1177.8,461.1 1180.5,449.3 1183.3,458.6 1186.1,463.2 1190.8,369.2 1194.9,472.8 1197.7,420.3 1201.3,492.2 1204.6,431.4 1206.6,452.1 1208.7,481.1 1211.1,471.3 1213.5,455.1 1215.9,446.6 1217.6,473.6 1219.2,493.6 1221.4,480.8 1223.6,479.4 1225.8,463.6 1228.1,461.8 1230.3,449.3 1232.6,455.5 1234.9,472.0 1237.2,479.7 1239.2,459.1 1241.3,445.2 1243.4,455.0 1245.5,453.1 1247.5,465.4 1249.6,468.7 1251.3,480.3 1252.9,499.1 1255.1,454.9 1257.6,451.1 1260.0,436.6 1262.4,435.3 1264.8,424.5 1266.9,413.7 1269.0,407.9 1271.7,441.1 1277.8,360.9 1280.0,457.6 1282.1,453.8 1284.2,440.7 1286.2,438.6 1288.3,430.0 1290.4,442.0 1292.4,460.4 1295.2,441.8 1298.0,414.8 1300.5,428.2 1302.9,449.3 1307.6,372.0 1309.7,382.3 1311.8,385.8 1313.6,381.9 1315.4,383.0 1318.7,320.9 1322.8,457.6 1325.6,469.4 1328.4,474.2 1330.7,458.3 1333.0,451.1 1335.3,435.5 1337.3,442.8 1339.4,457.6 1342.2,428.6 1344.9,450.4 1347.7,468.7 1349.8,453.8 1351.8,447.4 1353.9,431.4 1356.0,423.1 1357.8,403.1 1359.6,377.5 1362.9,465.9 1364.7,445.2 1366.5,428.6 1371.2,499.1 1374.0,491.4 1376.7,477.0 1379.5,471.4 1382.2,471.5 1384.5,489.3 1386.8,496.9 1389.2,515.7 1391.2,503.3 1393.3,486.6 1395.4,500.3 1397.4,517.0 1400.2,505.5 1403.0,489.4 1405.0,490.9 1407.1,501.1 1409.2,502.0 1411.3,508.8 1413.3,498.9 1415.4,481.1 1417.5,488.9 1419.5,503.2 1421.8,505.4 1424.2,498.4 1426.5,501.8 1430.6,333.3 1437.5,452.1 1439.6,433.1 1441.7,409.3 1444.4,434.3 1447.2,465.9 1449.3,452.0 1451.3,434.1 1453.6,437.5 1455.9,449.8 1458.2,452.1 1462.4,369.2 1464.4,392.2 1466.5,423.1 1469.3,415.2 1472.0,399.6 1474.1,406.8 1476.2,422.0 1478.3,426.3 1480.3,438.3 1483.1,445.7 1485.9,449.3 1487.9,434.1 1490.0,424.5 1492.8,453.5 1501.6,380.3 1504.1,402.0 1506.6,416.2 1510.7,269.7 1514.9,441.1 1517.6,427.6 1520.4,421.7 1522.4,439.9 1524.5,447.1 1526.5,465.9 1530.6,360.9 1536.2,460.4" fill="none" stroke="#b9dcae" stroke-width="2.1" stroke-linejoin="round"/>
<line x1="224.4" y1="573.8" x2="1536.2" y2="573.8" stroke="#a9c95c" stroke-width="1.7"/>
<g class="ax" clip-path="url(#cl1)"><text x="224.4" y="609.8" text-anchor="middle">01/08 00:00</text><text x="443.4" y="609.8" text-anchor="middle">01/08 08:00</text><text x="662.5" y="609.8" text-anchor="middle">01/08 16:00</text><text x="881.5" y="609.8" text-anchor="middle">01/09 00:00</text><text x="1100.5" y="609.8" text-anchor="middle">01/09 08:00</text><text x="1319.6" y="609.8" text-anchor="middle">01/09 16:00</text><text x="206.3" y="579.3" text-anchor="end">0</text><text x="206.3" y="508.9" text-anchor="end">100</text><text x="206.3" y="438.6" text-anchor="end">200</text><text x="206.3" y="368.2" text-anchor="end">300</text><text x="206.3" y="297.8" text-anchor="end">400</text></g>
</svg><div class="lgi" style="left:196.0px;top:620px"><i style="background:#7fbf70"></i><b style="letter-spacing:0px">101</b></div><div class="lgi" style="left:301.3px;top:620px"><i style="background:#ecd04a"></i><b style="letter-spacing:0px">200</b></div><div class="lgi" style="left:406.6px;top:620px"><i style="background:#8ab4f8"></i><b style="letter-spacing:0px">202</b></div><div class="lgi" style="left:511.9px;top:620px"><i style="background:#ee8434"></i><b style="letter-spacing:0px">301</b></div><div class="lgi" style="left:617.2px;top:620px"><i style="background:#de5060"></i><b style="letter-spacing:0px">302</b></div><div class="lgi" style="left:722.5px;top:620px"><i style="background:#5f94ea"></i><b style="letter-spacing:0px">304</b></div><div class="lgi" style="left:827.8px;top:620px"><i style="background:#b27fd8"></i><b style="letter-spacing:0px">400</b></div><div class="lgi" style="left:933.1px;top:620px"><i style="background:#6f5f9f"></i><b style="letter-spacing:0px">401</b></div><div class="lgi" style="left:1038.4px;top:620px"><i style="background:#4d8838"></i><b style="letter-spacing:0px">403</b></div><div class="lgi" style="left:1143.7px;top:620px"><i style="background:#f7de4e"></i><b style="letter-spacing:0px">404</b></div><div class="lgi" style="left:1249.0px;top:620px"><i style="background:#4a7eba"></i><b style="letter-spacing:0px">409</b></div><div class="lgi" style="left:1354.3px;top:620px"><i style="background:#b9602a"></i><b style="letter-spacing:0px">410</b></div><div class="lgi" style="left:196.0px;top:664px"><i style="background:#82200f"></i><b style="letter-spacing:0px">422</b></div><div class="lgi" style="left:301.3px;top:664px"><i style="background:#1c4278"></i><b style="letter-spacing:0px">444</b></div><div class="lgi" style="left:406.6px;top:664px"><i style="background:#672460"></i><b style="letter-spacing:0px">499</b></div><div class="lgi" style="left:511.9px;top:664px"><i style="background:#584878"></i><b style="letter-spacing:0px">502</b></div><div class="lgi" style="left:617.2px;top:664px"><i style="background:#b9dcae"></i><b style="letter-spacing:0px">503</b></div>
<svg class="chart" style="left:0;top:0" width="3024" height="740" viewBox="0 0 3024 740">
<defs>
<radialGradient id="gb" gradientUnits="userSpaceOnUse" cx="1940" cy="392" r="148.2"><stop offset="0" stop-color="#3d6df5"/><stop offset="0.55" stop-color="#4d82f6"/><stop offset="1" stop-color="#5f9cf6"/></radialGradient>
<radialGradient id="gy" gradientUnits="userSpaceOnUse" cx="1940" cy="392" r="148.2"><stop offset="0" stop-color="#94862e"/><stop offset="1" stop-color="#b09436"/></radialGradient>
<radialGradient id="gr" gradientUnits="userSpaceOnUse" cx="1940" cy="392" r="148.2"><stop offset="0" stop-color="#b82c30"/><stop offset="1" stop-color="#d6333f"/></radialGradient>
<radialGradient id="gb2" gradientUnits="userSpaceOnUse" cx="1940" cy="392" r="148.2"><stop offset="0" stop-color="#2f5fc8"/><stop offset="1" stop-color="#3d72e0"/></radialGradient>
<radialGradient id="gp" gradientUnits="userSpaceOnUse" cx="1940" cy="392" r="148.2"><stop offset="0" stop-color="#7a3fb0"/><stop offset="1" stop-color="#9550cc"/></radialGradient>
<radialGradient id="gdp" gradientUnits="userSpaceOnUse" cx="1940" cy="392" r="148.2"><stop offset="0" stop-color="#2c2444"/><stop offset="1" stop-color="#3a2f56"/></radialGradient>
<radialGradient id="gg" gradientUnits="userSpaceOnUse" cx="1940" cy="392" r="148.2"><stop offset="0" stop-color="#4f8a3e"/><stop offset="1" stop-color="#66a850"/></radialGradient>
<radialGradient id="gbr" gradientUnits="userSpaceOnUse" cx="1940" cy="392" r="148.2"><stop offset="0" stop-color="#8a4a1c"/><stop offset="1" stop-color="#a85a24"/></radialGradient>
</defs>
<path d="M1940,392 L1940.00,248.30 Q1940.00,243.80 1944.50,243.87 A148.2,148.2 0 1 1 1811.71,466.19 Q1809.51,462.26 1813.48,460.13 Z" fill="url(#gb)" stroke="#1b1c20" stroke-width="2.2" stroke-linejoin="round"/>
<path d="M1940,392 L1813.24,459.68 Q1809.27,461.80 1807.21,457.80 A148.2,148.2 0 0 1 1835.50,286.91 Q1838.74,283.79 1841.81,287.08 Z" fill="url(#gy)" stroke="#1b1c20" stroke-width="2.2" stroke-linejoin="round"/>
<path d="M1940,392 L1843.29,285.72 Q1840.26,282.39 1843.63,279.41 A148.2,148.2 0 0 1 1864.92,264.23 Q1868.83,262.01 1870.99,265.95 Z" fill="url(#gr)" stroke="#1b1c20" stroke-width="1.8" stroke-linejoin="round"/>
<path d="M1940,392 L1872.09,265.36 Q1869.97,261.39 1873.97,259.32 A148.2,148.2 0 0 1 1877.04,257.84 Q1881.14,255.99 1882.93,260.12 Z" fill="url(#gb2)" stroke="#1b1c20" stroke-width="1.6" stroke-linejoin="round"/>
<path d="M1940,392 L1883.62,259.82 Q1881.86,255.68 1886.02,253.98 A148.2,148.2 0 0 1 1889.46,252.68 Q1893.71,251.21 1895.12,255.49 Z" fill="url(#gp)" stroke="#1b1c20" stroke-width="1.6" stroke-linejoin="round"/>
<path d="M1940,392 L1895.42,254.80 Q1894.20,251.05 1897.96,249.89 A148.2,148.2 0 0 1 1899.10,249.56 Q1902.89,248.52 1903.88,252.33 Z" fill="url(#gdp)" stroke="#1b1c20" stroke-width="1.2" stroke-linejoin="round"/>
<path d="M1940,392 L1903.76,250.85 Q1903.14,248.46 1905.55,247.86 A148.2,148.2 0 0 1 1906.27,247.69 Q1908.68,247.15 1909.20,249.57 Z" fill="url(#gg)" stroke="#1b1c20" stroke-width="0.9" stroke-linejoin="round"/>
<path d="M1940,392 L1910.47,248.15 Q1910.20,246.83 1911.52,246.56 A148.2,148.2 0 0 1 1911.92,246.48 Q1913.25,246.23 1913.49,247.56 Z" fill="url(#gbr)" stroke="#1b1c20" stroke-width="0.5" stroke-linejoin="round"/>
<line x1="1915.8" y1="245.8" x2="1921.1" y2="278.0" stroke="#5a4a2a" stroke-width="1.0" stroke-opacity="0.4" stroke-dasharray="2 6"/><line x1="1918.4" y1="245.4" x2="1923.1" y2="277.6" stroke="#3a3a2a" stroke-width="1.0" stroke-opacity="0.4" stroke-dasharray="2 6"/><line x1="1921.2" y1="245.0" x2="1925.3" y2="277.3" stroke="#2f4030" stroke-width="1.0" stroke-opacity="0.4" stroke-dasharray="2 6"/><line x1="1924.0" y1="244.7" x2="1927.5" y2="277.1" stroke="#4a4424" stroke-width="1.0" stroke-opacity="0.4" stroke-dasharray="2 6"/><line x1="1927.1" y1="244.4" x2="1929.9" y2="276.8" stroke="#2a3a4a" stroke-width="1.0" stroke-opacity="0.4" stroke-dasharray="2 6"/><line x1="1930.2" y1="244.1" x2="1932.3" y2="276.7" stroke="#26303c" stroke-width="1.0" stroke-opacity="0.4" stroke-dasharray="2 6"/><line x1="1937.2" y1="243.8" x2="1937.6" y2="264.6" stroke="#4a6a4a" stroke-width="1.0" stroke-opacity="0.4" stroke-dasharray="2 6"/>
</svg><div class="lgi" style="left:1638.0px;top:576px"><i style="background:#8ab4f8"></i><b style="letter-spacing:0px">202</b></div><div class="lgi" style="left:1743.3px;top:576px"><i style="background:#ecd04a"></i><b style="letter-spacing:0px">200</b></div><div class="lgi" style="left:1848.6px;top:576px"><i style="background:#de5060"></i><b style="letter-spacing:0px">302</b></div><div class="lgi" style="left:1953.9px;top:576px"><i style="background:#5f94ea"></i><b style="letter-spacing:0px">304</b></div><div class="lgi" style="left:2059.2px;top:576px"><i style="background:#b27fd8"></i><b style="letter-spacing:0px">400</b></div><div class="lgi" style="left:2164.5px;top:576px"><i style="background:#584878"></i><b style="letter-spacing:0px">502</b></div><div class="lgi" style="left:1638.0px;top:620px"><i style="background:#7fbf70"></i><b style="letter-spacing:0px">101</b></div><div class="lgi" style="left:1743.3px;top:620px"><i style="background:#b9602a"></i><b style="letter-spacing:0px">410</b></div><div class="lgi" style="left:1848.6px;top:620px"><i style="background:#ee8434"></i><b style="letter-spacing:0px">301</b></div><div class="lgi" style="left:1953.9px;top:620px"><i style="background:#6f5f9f"></i><b style="letter-spacing:0px">401</b></div><div class="lgi" style="left:2059.2px;top:620px"><i style="background:#4d8838"></i><b style="letter-spacing:0px">403</b></div><div class="lgi" style="left:2164.5px;top:620px"><i style="background:#f7de4e"></i><b style="letter-spacing:0px">404</b></div><div class="lgi" style="left:1638.0px;top:664px"><i style="background:#4a7eba"></i><b style="letter-spacing:0px">409</b></div><div class="lgi" style="left:1743.3px;top:664px"><i style="background:#82200f"></i><b style="letter-spacing:0px">422</b></div><div class="lgi" style="left:1848.6px;top:664px"><i style="background:#1c4278"></i><b style="letter-spacing:0px">444</b></div><div class="lgi" style="left:1953.9px;top:664px"><i style="background:#672460"></i><b style="letter-spacing:0px">499</b></div><div class="lgi" style="left:2059.2px;top:664px"><i style="background:#b9dcae"></i><b style="letter-spacing:0px">503</b></div>
<div class="bl" style="left:2326px;top:207.6px;width:247.2px;letter-spacing:0.197px">/inbox</div><div class="bf" style="left:2593px;top:212.1px;width:267px;background:linear-gradient(90deg,#7cbe68 0%,#f5e05a 50%,#e2525f 100%)"></div><div class="bv" style="left:2773px;top:205.0px;width:200.400px;color:#e2525f">54808</div><div class="bl" style="left:2326px;top:258.8px;text-align:left;letter-spacing:-0.274px">/api/v1/announcem…</div><div class="bb" style="left:2590px;top:263.2px;width:264px"></div><div class="bf" style="left:2593px;top:263.2px;width:23px;border-radius:4px;background:linear-gradient(90deg,#7cbe68 0px,#f5e05a 130.5px,#e2525f 261px)"></div><div class="bv" style="left:2773px;top:256.1px;width:200.400px;color:#81bf67">4973</div><div class="bl" style="left:2326px;top:309.9px;text-align:left;letter-spacing:0.083px">/api/v1/notifications…</div><div class="bb" style="left:2590px;top:314.4px;width:264px"></div><div class="bf" style="left:2593px;top:314.4px;width:17.5px;border-radius:4px;background:linear-gradient(90deg,#7cbe68 0px,#f5e05a 130.5px,#e2525f 261px)"></div><div class="bv" style="left:2773px;top:307.3px;width:200.400px;color:#7ebf68">3843</div><div class="bl" style="left:2326px;top:361.0px;width:247.0px;letter-spacing:0px">/</div><div class="bb" style="left:2590px;top:365.5px;width:264px"></div><div class="bf" style="left:2593px;top:365.5px;width:8.5px;border-radius:4px;background:linear-gradient(90deg,#7cbe68 0px,#f5e05a 130.5px,#e2525f 261px)"></div><div class="bv" style="left:2773px;top:358.4px;width:200.400px;color:#7cbe68">1953</div><div class="bl" style="left:2326px;top:412.2px;text-align:left;letter-spacing:-0.017px">/api/v1/streaming/h…</div><div class="bb" style="left:2590px;top:416.7px;width:264px"></div><div class="bf" style="left:2593px;top:416.7px;width:3px;border-radius:0;background:linear-gradient(90deg,#7cbe68 0px,#f5e05a 130.5px,#e2525f 261px)"></div><div class="bv" style="left:2773px;top:409.6px;width:200.400px;color:#7cbe68">962</div><div class="bl" style="left:2326px;top:463.4px;width:247.3px;letter-spacing:0.291px">/health</div><div class="bb" style="left:2590px;top:467.9px;width:264px"></div><div class="bf" style="left:2593px;top:467.9px;width:3px;border-radius:0;background:linear-gradient(90deg,#7cbe68 0px,#f5e05a 130.5px,#e2525f 261px)"></div><div class="bv" style="left:2773px;top:460.8px;width:200.400px;color:#7cbe68">959</div><div class="bl" style="left:2326px;top:514.5px;text-align:left;letter-spacing:0.083px">/api/v1/notifications…</div><div class="bb" style="left:2590px;top:519.0px;width:264px"></div><div class="bf" style="left:2593px;top:519.0px;width:2.6px;border-radius:0;background:linear-gradient(90deg,#7cbe68 0px,#f5e05a 130.5px,#e2525f 261px)"></div><div class="bv" style="left:2773px;top:511.9px;width:200.400px;color:#7cbe68">862</div><div class="bl" style="left:2326px;top:565.6px;text-align:left;letter-spacing:0.018px">/api/v1/timelines/ho…</div><div class="bb" style="left:2590px;top:570.1px;width:264px"></div><div class="bf" style="left:2593px;top:570.1px;width:2.4px;border-radius:0;background:linear-gradient(90deg,#7cbe68 0px,#f5e05a 130.5px,#e2525f 261px)"></div><div class="bv" style="left:2773px;top:563.0px;width:200.400px;color:#7cbe68">454</div><div class="bl" style="left:2326px;top:616.8px;text-align:left;letter-spacing:0.018px">/api/v1/timelines/ho…</div><div class="bb" style="left:2590px;top:621.3px;width:264px"></div><div class="bf" style="left:2593px;top:621.3px;width:2.4px;border-radius:0;background:linear-gradient(90deg,#7cbe68 0px,#f5e05a 130.5px,#e2525f 261px)"></div><div class="bv" style="left:2773px;top:614.2px;width:200.400px;color:#7cbe68">447</div><div class="bl" style="left:2326px;top:667.9px;text-align:left;letter-spacing:-0.029px">/api/v1/instance/pe…</div><div class="bb" style="left:2590px;top:672.4px;width:264px"></div><div class="bf" style="left:2593px;top:672.4px;width:2.4px;border-radius:0;background:linear-gradient(90deg,#7cbe68 0px,#f5e05a 130.5px,#e2525f 261px)"></div><div class="bv" style="left:2773px;top:665.3px;width:200.400px;color:#7cbe68">417</div>

<svg class="chart" style="left:0;top:0" width="3024" height="1346" viewBox="0 0 3024 1346">
<defs><clipPath id="cl2"><rect x="164" y="800" width="1400" height="360"/></clipPath></defs>
<g stroke="rgba(204,204,220,0.12)" stroke-width="1.3" fill="none"><line x1="224.4" y1="837" x2="224.4" y2="1107.1"/><line x1="443.4" y1="837" x2="443.4" y2="1107.1"/><line x1="662.5" y1="837" x2="662.5" y2="1107.1"/><line x1="881.5" y1="837" x2="881.5" y2="1107.1"/><line x1="1100.5" y1="837" x2="1100.5" y2="1107.1"/><line x1="1319.6" y1="837" x2="1319.6" y2="1107.1"/><line x1="215.9" y1="1098.1" x2="1538.6" y2="1098.1"/><line x1="215.9" y1="991.2" x2="1538.6" y2="991.2"/><line x1="215.9" y1="884.3" x2="1538.6" y2="884.3"/></g>
<polygon points="224.3,982.8 226.3,1005.5 228.5,991.6 230.4,1006.8 233.2,1011.0 235.1,940.5 237.9,909.6 240.6,1012.4 242.4,1017.1 244.2,1019.3 247.0,1020.7 249.2,1031.7 251.1,1003.5 253.9,1033.1 256.0,1034.3 258.0,1040.0 259.7,1040.8 261.3,1037.2 263.6,1027.6 265.8,1034.5 267.7,1023.6 269.6,1016.5 271.8,1027.6 274.1,1019.3 276.0,1042.8 278.8,1033.9 280.8,1035.3 282.9,1033.9 284.6,1031.1 286.2,1033.1 287.9,1049.7 289.8,1038.6 292.0,1055.2 294.8,1031.7 297.3,1052.4 299.5,1048.7 301.7,1040.0 304.4,1056.6 306.4,1049.7 309.1,1055.2 311.9,1055.2 314.7,1041.4 316.5,1045.0 318.3,1052.4 319.9,1059.9 321.6,1063.5 324.3,1056.6 326.6,1051.1 328.5,1058.0 330.4,1045.5 332.2,1046.2 334.0,1049.7 336.8,1052.4 339.5,1051.1 341.6,1056.9 343.7,1060.7 345.3,1054.2 347.0,1051.1 348.8,1057.2 350.6,1059.3 353.4,1053.8 355.4,1057.5 357.5,1063.5 359.3,1047.3 361.1,1026.2 363.0,1037.2 365.2,1066.3 368.0,1067.6 369.9,1069.0 371.9,1073.2 373.7,1071.8 375.5,1067.6 378.2,1064.3 381.0,1069.0 383.8,1063.5 385.8,1065.2 387.9,1069.0 390.7,1066.3 392.6,1072.6 394.8,1062.1 397.6,1073.2 399.2,1070.4 400.9,1062.1 403.6,1064.9 405.4,1066.7 407.2,1073.2 410.0,1066.3 412.8,863.2 414.4,876.1 416.1,883.9 418.3,1042.8 420.2,1062.1 422.0,1061.4 423.8,1064.9 426.6,1058.0 428.7,1061.1 430.7,1062.1 432.4,1054.6 434.0,1050.2 435.8,1061.5 437.6,1069.0 439.3,1063.0 441.0,1059.3 442.7,1062.7 444.5,1060.7 447.3,1064.9 449.4,1067.4 451.5,1073.2 453.5,1074.1 455.6,1072.6 458.4,1064.9 461.1,1073.2 463.9,1062.1 466.6,1070.4 469.4,1064.9 471.5,1065.9 473.6,1071.8 475.6,1075.1 477.7,1075.9 479.8,1067.7 481.8,1064.9 483.9,1070.8 486.0,1073.2 488.8,1069.0 490.8,1069.1 492.9,1073.2 495.0,1074.8 497.0,1073.2 499.1,1067.4 501.2,1065.4 504.0,1064.3 506.7,1054.6 508.9,1075.9 511.3,1071.0 513.6,1063.5 515.3,1061.8 516.9,1062.1 518.7,1073.6 520.5,1080.1 522.6,1066.9 524.7,1056.6 527.4,1059.3 530.2,1052.4 533.0,1059.3 534.8,1054.8 536.6,1045.5 539.3,1055.2 541.0,1053.1 542.6,1053.8 544.7,1055.2 546.8,1051.1 548.9,1048.4 550.9,1051.1 552.3,1048.3 555.1,989.4 557.0,1001.3 559.2,1002.7 562.0,1042.8 564.7,1024.8 566.8,1023.7 568.9,1017.9 571.0,1013.9 573.0,1014.6 575.2,1020.7 577.7,1041.4 579.9,1019.3 581.3,1035.9 584.1,1019.3 586.8,1041.4 588.9,1034.2 591.0,1022.9 593.8,1052.4 595.7,1031.7 597.5,1033.5 599.3,1040.0 601.4,1038.4 603.4,1034.5 605.1,1020.6 606.7,1010.4 608.4,1018.0 610.1,1020.7 613.1,1033.1 615.9,1027.6 617.8,1038.6 620.6,1027.6 623.0,1035.9 625.5,1046.9 628.3,1037.2 630.4,1045.4 632.4,1048.3 634.5,1037.4 636.6,1031.7 638.7,1044.5 640.7,1053.8 642.8,1041.1 644.9,1031.7 646.9,1038.4 649.0,1041.4 651.1,1036.2 653.2,1034.5 655.2,1039.3 657.3,1038.6 660.1,1034.5 662.8,1049.7 664.9,1038.7 667.0,1031.2 669.7,1048.3 672.3,1038.5 674.9,1025.4 677.5,1015.7 680.2,1049.7 682.6,1044.4 684.9,1034.5 687.0,1034.5 689.1,1040.0 691.2,1037.7 693.2,1031.7 696.0,1042.8 698.3,1022.9 700.7,1006.8 702.9,1030.3 705.1,1024.8 706.8,1030.9 708.4,1033.1 710.5,1026.6 712.6,1024.8 714.5,1037.2 716.7,1017.9 718.8,1035.2 720.9,1049.7 722.9,1035.2 725.0,1024.8 727.8,1022.9 729.8,1034.8 731.9,1042.8 734.7,1034.5 737.4,1045.5 739.6,1039.7 741.7,1039.5 743.8,1034.5 746.1,1024.9 748.5,1017.9 751.3,1030.3 753.3,1029.9 755.4,1026.2 758.2,1026.2 760.7,1016.6 763.1,1012.4 765.9,1030.3 767.6,1024.3 769.2,1015.1 771.4,1017.9 774.2,1002.7 776.7,1015.1 778.9,1004.1 780.7,1001.3 782.5,1002.7 785.0,980.6 786.8,992.5 788.6,1001.3 791.3,1009.6 793.0,1005.0 794.6,1002.7 796.4,1014.9 798.2,1024.8 800.3,1011.3 802.4,1002.7 804.0,1015.5 805.7,1023.4 807.9,1033.9 810.7,1020.7 813.4,1033.1 815.5,1024.5 817.6,1019.3 819.6,1012.2 821.7,1000.8 823.4,1008.5 825.0,1020.7 826.8,1007.4 828.6,988.9 830.7,980.6 832.8,977.8 835.5,990.3 837.6,994.7 839.7,995.8 841.9,990.3 844.2,995.8 846.6,1006.8 848.5,987.5 851.6,1009.6 853.6,1005.0 855.6,992.8 857.6,987.5 859.7,999.8 861.8,1006.8 864.5,1017.9 866.2,1005.0 867.9,995.8 870.1,990.3 871.7,955.7 873.4,1031.7 876.2,1009.6 878.4,1012.4 880.7,1000.8 882.8,1008.2 884.9,1012.4 886.9,1010.3 889.0,1011.0 891.8,984.7 894.5,936.4 897.3,995.8 900.1,1015.1 902.0,1012.4 903.8,1032.9 905.6,1048.3 908.4,1013.8 910.6,1023.4 912.5,910.7 915.3,995.8 918.0,1028.9 920.1,1024.9 922.2,1023.4 924.2,1021.8 926.3,1017.9 929.1,1040.0 932.7,939.7 936.0,1034.5 938.1,1027.2 940.1,1024.8 942.2,1038.2 944.3,1046.9 947.0,1056.6 949.1,1052.7 951.2,1052.4 953.9,1064.9 956.7,1060.5 959.5,1051.1 961.1,1039.2 962.8,1029.5 964.6,1043.1 966.4,1053.8 968.5,1050.9 970.5,1051.1 973.3,1056.9 976.1,1059.3 978.8,1045.5 980.9,1050.5 983.0,1058.0 985.7,1055.2 987.8,1059.1 989.9,1060.7 992.6,1054.7 995.4,1051.9 998.2,1062.4 1000.9,1067.6 1003.7,1063.5 1006.4,1069.0 1008.5,1068.3 1010.6,1073.2 1012.5,1048.3 1014.3,1061.0 1016.1,1069.0 1018.3,1063.9 1020.5,1064.0 1022.8,1056.6 1025.0,1056.0 1026.8,1063.8 1028.6,1067.6 1030.6,1067.4 1032.7,1071.8 1034.8,1072.1 1036.8,1070.4 1039.6,1073.2 1041.3,1051.3 1042.9,1032.3 1045.5,1048.2 1048.1,1056.7 1050.7,1072.6 1052.7,1067.9 1054.8,1058.0 1057.6,1067.6 1059.5,1056.0 1062.0,1058.4 1064.5,1064.9 1067.2,1067.6 1068.9,1063.6 1070.6,1056.0 1073.0,1064.2 1075.5,1076.5 1077.6,1074.6 1079.7,1067.6 1081.7,1065.4 1083.8,1066.3 1086.3,1053.0 1088.8,1035.9 1091.1,1055.1 1093.5,1077.3 1095.4,1049.7 1097.6,1059.3 1099.9,1056.2 1102.2,1047.3 1104.5,1042.8 1107.3,1058.0 1109.6,1053.7 1111.9,1042.4 1114.2,1038.6 1117.0,1051.1 1119.7,1050.7 1122.5,1048.3 1124.6,1032.4 1126.6,1020.7 1128.7,1038.0 1130.8,1051.1 1133.6,1037.2 1136.3,1048.3 1139.1,1027.6 1141.8,1046.9 1143.9,1045.1 1146.0,1048.3 1148.8,1027.6 1152.1,915.7 1155.1,1020.7 1156.8,1030.3 1158.4,1035.9 1160.9,1028.9 1163.4,1024.8 1165.1,1036.2 1166.7,1044.1 1170.9,916.5 1175.0,1028.9 1177.1,1022.1 1179.1,1020.7 1181.2,1024.7 1183.3,1023.4 1185.4,1025.0 1187.4,1028.9 1190.8,959.3 1194.9,1034.5 1197.7,1008.2 1199.5,1021.8 1201.3,1033.1 1203.2,1009.6 1205.7,1019.5 1208.2,1031.7 1210.2,1022.4 1212.3,1011.0 1214.1,1005.5 1215.9,1003.5 1217.6,1020.2 1219.2,1034.5 1222.0,1025.0 1224.7,1020.7 1227.5,1015.2 1230.3,1005.5 1232.3,1005.6 1234.4,1008.2 1236.2,1019.9 1238.0,1027.6 1240.4,1018.4 1242.7,1012.4 1244.4,1011.5 1246.0,1006.8 1247.8,1015.8 1249.6,1027.6 1251.3,1039.2 1252.9,1048.3 1255.7,1026.2 1257.5,1023.5 1259.3,1023.4 1262.0,1020.3 1264.8,1013.8 1267.6,1017.9 1269.0,1012.4 1271.7,1022.0 1273.8,1019.1 1275.9,1020.7 1277.8,976.4 1280.0,1035.9 1282.1,1031.6 1284.2,1023.4 1286.5,1027.0 1288.8,1034.9 1291.1,1037.2 1293.4,1025.9 1295.7,1022.1 1298.0,1011.0 1300.0,1017.6 1302.1,1028.9 1303.8,1021.7 1305.4,1012.4 1307.2,1016.1 1309.0,1023.4 1311.1,1023.1 1313.2,1020.7 1315.9,1038.6 1318.7,978.4 1321.5,1045.5 1323.5,1045.9 1325.6,1051.1 1327.7,1053.7 1329.7,1053.8 1332.5,1050.2 1335.3,1051.1 1337.3,1052.8 1339.4,1049.5 1341.5,1053.6 1343.6,1052.4 1345.8,1051.1 1348.0,1053.6 1350.2,1050.1 1352.4,1054.0 1354.6,1051.1 1356.7,1048.8 1358.8,1051.6 1360.8,1047.0 1362.9,1048.3 1365.4,1047.5 1367.9,1041.4 1369.5,1047.8 1371.2,1056.6 1373.3,1060.7 1375.3,1060.7 1378.1,1043.3 1380.9,1042.2 1383.6,1045.0 1386.0,1055.9 1388.3,1062.1 1390.1,1062.1 1391.9,1067.6 1394.7,1053.8 1396.8,1060.9 1398.8,1064.9 1400.9,1058.5 1403.0,1056.6 1405.7,1064.9 1408.5,1059.9 1411.3,1051.1 1414.0,1048.3 1416.1,1052.5 1418.2,1060.7 1420.2,1059.8 1422.3,1056.6 1424.4,1050.0 1426.5,1048.3 1430.6,984.7 1433.4,979.8 1435.4,1001.6 1437.5,1017.9 1439.9,1001.8 1442.2,988.9 1444.3,1012.5 1446.3,1033.1 1448.1,1017.9 1449.9,1008.2 1452.0,1010.8 1454.1,1011.0 1456.2,1016.1 1458.2,1023.4 1460.3,1001.7 1462.4,977.8 1464.4,994.0 1466.5,1015.1 1469.3,1010.6 1472.0,1001.3 1474.4,1000.2 1476.7,1002.7 1479.0,983.4 1481.7,1012.4 1484.5,1006.8 1486.6,1015.2 1488.6,1019.3 1491.4,1004.1 1494.2,1013.4 1496.9,1024.8 1499.3,1004.2 1501.6,979.2 1504.1,985.7 1506.6,995.8 1510.7,885.3 1514.3,1012.4 1516.3,1008.8 1518.2,1001.3 1520.4,1009.6 1523.2,998.6 1525.9,1015.1 1528.7,987.5 1530.8,987.2 1532.8,990.3 1534.5,1006.5 1536.2,1019.3 1536.2,1098.1 224.3,1098.1" fill="rgba(236,208,74,0.60)"/>
<polyline points="224.3,982.8 226.3,1005.5 228.5,991.6 230.4,1006.8 233.2,1011.0 235.1,940.5 237.9,909.6 240.6,1012.4 242.4,1017.1 244.2,1019.3 247.0,1020.7 249.2,1031.7 251.1,1003.5 253.9,1033.1 256.0,1034.3 258.0,1040.0 259.7,1040.8 261.3,1037.2 263.6,1027.6 265.8,1034.5 267.7,1023.6 269.6,1016.5 271.8,1027.6 274.1,1019.3 276.0,1042.8 278.8,1033.9 280.8,1035.3 282.9,1033.9 284.6,1031.1 286.2,1033.1 287.9,1049.7 289.8,1038.6 292.0,1055.2 294.8,1031.7 297.3,1052.4 299.5,1048.7 301.7,1040.0 304.4,1056.6 306.4,1049.7 309.1,1055.2 311.9,1055.2 314.7,1041.4 316.5,1045.0 318.3,1052.4 319.9,1059.9 321.6,1063.5 324.3,1056.6 326.6,1051.1 328.5,1058.0 330.4,1045.5 332.2,1046.2 334.0,1049.7 336.8,1052.4 339.5,1051.1 341.6,1056.9 343.7,1060.7 345.3,1054.2 347.0,1051.1 348.8,1057.2 350.6,1059.3 353.4,1053.8 355.4,1057.5 357.5,1063.5 359.3,1047.3 361.1,1026.2 363.0,1037.2 365.2,1066.3 368.0,1067.6 369.9,1069.0 371.9,1073.2 373.7,1071.8 375.5,1067.6 378.2,1064.3 381.0,1069.0 383.8,1063.5 385.8,1065.2 387.9,1069.0 390.7,1066.3 392.6,1072.6 394.8,1062.1 397.6,1073.2 399.2,1070.4 400.9,1062.1 403.6,1064.9 405.4,1066.7 407.2,1073.2 410.0,1066.3 412.8,863.2 414.4,876.1 416.1,883.9 418.3,1042.8 420.2,1062.1 422.0,1061.4 423.8,1064.9 426.6,1058.0 428.7,1061.1 430.7,1062.1 432.4,1054.6 434.0,1050.2 435.8,1061.5 437.6,1069.0 439.3,1063.0 441.0,1059.3 442.7,1062.7 444.5,1060.7 447.3,1064.9 449.4,1067.4 451.5,1073.2 453.5,1074.1 455.6,1072.6 458.4,1064.9 461.1,1073.2 463.9,1062.1 466.6,1070.4 469.4,1064.9 471.5,1065.9 473.6,1071.8 475.6,1075.1 477.7,1075.9 479.8,1067.7 481.8,1064.9 483.9,1070.8 486.0,1073.2 488.8,1069.0 490.8,1069.1 492.9,1073.2 495.0,1074.8 497.0,1073.2 499.1,1067.4 501.2,1065.4 504.0,1064.3 506.7,1054.6 508.9,1075.9 511.3,1071.0 513.6,1063.5 515.3,1061.8 516.9,1062.1 518.7,1073.6 520.5,1080.1 522.6,1066.9 524.7,1056.6 527.4,1059.3 530.2,1052.4 533.0,1059.3 534.8,1054.8 536.6,1045.5 539.3,1055.2 541.0,1053.1 542.6,1053.8 544.7,1055.2 546.8,1051.1 548.9,1048.4 550.9,1051.1 552.3,1048.3 555.1,989.4 557.0,1001.3 559.2,1002.7 562.0,1042.8 564.7,1024.8 566.8,1023.7 568.9,1017.9 571.0,1013.9 573.0,1014.6 575.2,1020.7 577.7,1041.4 579.9,1019.3 581.3,1035.9 584.1,1019.3 586.8,1041.4 588.9,1034.2 591.0,1022.9 593.8,1052.4 595.7,1031.7 597.5,1033.5 599.3,1040.0 601.4,1038.4 603.4,1034.5 605.1,1020.6 606.7,1010.4 608.4,1018.0 610.1,1020.7 613.1,1033.1 615.9,1027.6 617.8,1038.6 620.6,1027.6 623.0,1035.9 625.5,1046.9 628.3,1037.2 630.4,1045.4 632.4,1048.3 634.5,1037.4 636.6,1031.7 638.7,1044.5 640.7,1053.8 642.8,1041.1 644.9,1031.7 646.9,1038.4 649.0,1041.4 651.1,1036.2 653.2,1034.5 655.2,1039.3 657.3,1038.6 660.1,1034.5 662.8,1049.7 664.9,1038.7 667.0,1031.2 669.7,1048.3 672.3,1038.5 674.9,1025.4 677.5,1015.7 680.2,1049.7 682.6,1044.4 684.9,1034.5 687.0,1034.5 689.1,1040.0 691.2,1037.7 693.2,1031.7 696.0,1042.8 698.3,1022.9 700.7,1006.8 702.9,1030.3 705.1,1024.8 706.8,1030.9 708.4,1033.1 710.5,1026.6 712.6,1024.8 714.5,1037.2 716.7,1017.9 718.8,1035.2 720.9,1049.7 722.9,1035.2 725.0,1024.8 727.8,1022.9 729.8,1034.8 731.9,1042.8 734.7,1034.5 737.4,1045.5 739.6,1039.7 741.7,1039.5 743.8,1034.5 746.1,1024.9 748.5,1017.9 751.3,1030.3 753.3,1029.9 755.4,1026.2 758.2,1026.2 760.7,1016.6 763.1,1012.4 765.9,1030.3 767.6,1024.3 769.2,1015.1 771.4,1017.9 774.2,1002.7 776.7,1015.1 778.9,1004.1 780.7,1001.3 782.5,1002.7 785.0,980.6 786.8,992.5 788.6,1001.3 791.3,1009.6 793.0,1005.0 794.6,1002.7 796.4,1014.9 798.2,1024.8 800.3,1011.3 802.4,1002.7 804.0,1015.5 805.7,1023.4 807.9,1033.9 810.7,1020.7 813.4,1033.1 815.5,1024.5 817.6,1019.3 819.6,1012.2 821.7,1000.8 823.4,1008.5 825.0,1020.7 826.8,1007.4 828.6,988.9 830.7,980.6 832.8,977.8 835.5,990.3 837.6,994.7 839.7,995.8 841.9,990.3 844.2,995.8 846.6,1006.8 848.5,987.5 851.6,1009.6 853.6,1005.0 855.6,992.8 857.6,987.5 859.7,999.8 861.8,1006.8 864.5,1017.9 866.2,1005.0 867.9,995.8 870.1,990.3 871.7,955.7 873.4,1031.7 876.2,1009.6 878.4,1012.4 880.7,1000.8 882.8,1008.2 884.9,1012.4 886.9,1010.3 889.0,1011.0 891.8,984.7 894.5,936.4 897.3,995.8 900.1,1015.1 902.0,1012.4 903.8,1032.9 905.6,1048.3 908.4,1013.8 910.6,1023.4 912.5,910.7 915.3,995.8 918.0,1028.9 920.1,1024.9 922.2,1023.4 924.2,1021.8 926.3,1017.9 929.1,1040.0 932.7,939.7 936.0,1034.5 938.1,1027.2 940.1,1024.8 942.2,1038.2 944.3,1046.9 947.0,1056.6 949.1,1052.7 951.2,1052.4 953.9,1064.9 956.7,1060.5 959.5,1051.1 961.1,1039.2 962.8,1029.5 964.6,1043.1 966.4,1053.8 968.5,1050.9 970.5,1051.1 973.3,1056.9 976.1,1059.3 978.8,1045.5 980.9,1050.5 983.0,1058.0 985.7,1055.2 987.8,1059.1 989.9,1060.7 992.6,1054.7 995.4,1051.9 998.2,1062.4 1000.9,1067.6 1003.7,1063.5 1006.4,1069.0 1008.5,1068.3 1010.6,1073.2 1012.5,1048.3 1014.3,1061.0 1016.1,1069.0 1018.3,1063.9 1020.5,1064.0 1022.8,1056.6 1025.0,1056.0 1026.8,1063.8 1028.6,1067.6 1030.6,1067.4 1032.7,1071.8 1034.8,1072.1 1036.8,1070.4 1039.6,1073.2 1041.3,1051.3 1042.9,1032.3 1045.5,1048.2 1048.1,1056.7 1050.7,1072.6 1052.7,1067.9 1054.8,1058.0 1057.6,1067.6 1059.5,1056.0 1062.0,1058.4 1064.5,1064.9 1067.2,1067.6 1068.9,1063.6 1070.6,1056.0 1073.0,1064.2 1075.5,1076.5 1077.6,1074.6 1079.7,1067.6 1081.7,1065.4 1083.8,1066.3 1086.3,1053.0 1088.8,1035.9 1091.1,1055.1 1093.5,1077.3 1095.4,1049.7 1097.6,1059.3 1099.9,1056.2 1102.2,1047.3 1104.5,1042.8 1107.3,1058.0 1109.6,1053.7 1111.9,1042.4 1114.2,1038.6 1117.0,1051.1 1119.7,1050.7 1122.5,1048.3 1124.6,1032.4 1126.6,1020.7 1128.7,1038.0 1130.8,1051.1 1133.6,1037.2 1136.3,1048.3 1139.1,1027.6 1141.8,1046.9 1143.9,1045.1 1146.0,1048.3 1148.8,1027.6 1152.1,915.7 1155.1,1020.7 1156.8,1030.3 1158.4,1035.9 1160.9,1028.9 1163.4,1024.8 1165.1,1036.2 1166.7,1044.1 1170.9,916.5 1175.0,1028.9 1177.1,1022.1 1179.1,1020.7 1181.2,1024.7 1183.3,1023.4 1185.4,1025.0 1187.4,1028.9 1190.8,959.3 1194.9,1034.5 1197.7,1008.2 1199.5,1021.8 1201.3,1033.1 1203.2,1009.6 1205.7,1019.5 1208.2,1031.7 1210.2,1022.4 1212.3,1011.0 1214.1,1005.5 1215.9,1003.5 1217.6,1020.2 1219.2,1034.5 1222.0,1025.0 1224.7,1020.7 1227.5,1015.2 1230.3,1005.5 1232.3,1005.6 1234.4,1008.2 1236.2,1019.9 1238.0,1027.6 1240.4,1018.4 1242.7,1012.4 1244.4,1011.5 1246.0,1006.8 1247.8,1015.8 1249.6,1027.6 1251.3,1039.2 1252.9,1048.3 1255.7,1026.2 1257.5,1023.5 1259.3,1023.4 1262.0,1020.3 1264.8,1013.8 1267.6,1017.9 1269.0,1012.4 1271.7,1022.0 1273.8,1019.1 1275.9,1020.7 1277.8,976.4 1280.0,1035.9 1282.1,1031.6 1284.2,1023.4 1286.5,1027.0 1288.8,1034.9 1291.1,1037.2 1293.4,1025.9 1295.7,1022.1 1298.0,1011.0 1300.0,1017.6 1302.1,1028.9 1303.8,1021.7 1305.4,1012.4 1307.2,1016.1 1309.0,1023.4 1311.1,1023.1 1313.2,1020.7 1315.9,1038.6 1318.7,978.4 1321.5,1045.5 1323.5,1045.9 1325.6,1051.1 1327.7,1053.7 1329.7,1053.8 1332.5,1050.2 1335.3,1051.1 1337.3,1052.8 1339.4,1049.5 1341.5,1053.6 1343.6,1052.4 1345.8,1051.1 1348.0,1053.6 1350.2,1050.1 1352.4,1054.0 1354.6,1051.1 1356.7,1048.8 1358.8,1051.6 1360.8,1047.0 1362.9,1048.3 1365.4,1047.5 1367.9,1041.4 1369.5,1047.8 1371.2,1056.6 1373.3,1060.7 1375.3,1060.7 1378.1,1043.3 1380.9,1042.2 1383.6,1045.0 1386.0,1055.9 1388.3,1062.1 1390.1,1062.1 1391.9,1067.6 1394.7,1053.8 1396.8,1060.9 1398.8,1064.9 1400.9,1058.5 1403.0,1056.6 1405.7,1064.9 1408.5,1059.9 1411.3,1051.1 1414.0,1048.3 1416.1,1052.5 1418.2,1060.7 1420.2,1059.8 1422.3,1056.6 1424.4,1050.0 1426.5,1048.3 1430.6,984.7 1433.4,979.8 1435.4,1001.6 1437.5,1017.9 1439.9,1001.8 1442.2,988.9 1444.3,1012.5 1446.3,1033.1 1448.1,1017.9 1449.9,1008.2 1452.0,1010.8 1454.1,1011.0 1456.2,1016.1 1458.2,1023.4 1460.3,1001.7 1462.4,977.8 1464.4,994.0 1466.5,1015.1 1469.3,1010.6 1472.0,1001.3 1474.4,1000.2 1476.7,1002.7 1479.0,983.4 1481.7,1012.4 1484.5,1006.8 1486.6,1015.2 1488.6,1019.3 1491.4,1004.1 1494.2,1013.4 1496.9,1024.8 1499.3,1004.2 1501.6,979.2 1504.1,985.7 1506.6,995.8 1510.7,885.3 1514.3,1012.4 1516.3,1008.8 1518.2,1001.3 1520.4,1009.6 1523.2,998.6 1525.9,1015.1 1528.7,987.5 1530.8,987.2 1532.8,990.3 1534.5,1006.5 1536.2,1019.3" fill="none" stroke="#ecd04a" stroke-width="1.9" stroke-linejoin="round"/>
<polygon points="224.3,1096.6 226.5,1096.9 228.7,1095.9 230.9,1096.9 233.2,1096.6 235.1,1091.1 237.3,1096.6 239.6,1094.6 241.9,1096.5 244.2,1095.3 246.3,1093.9 248.4,1093.9 250.4,1095.5 252.5,1094.7 254.6,1094.3 256.6,1095.8 259.4,1092.5 262.2,1084.2 264.9,1081.5 266.3,1096.6 268.4,1096.9 270.5,1095.3 272.4,1085.6 274.2,1082.0 276.0,1080.1 278.1,1087.8 280.1,1092.5 282.9,1095.3 285.7,1091.1 287.7,1089.5 289.8,1089.7 291.2,1084.2 293.3,1084.7 295.3,1082.8 297.4,1081.3 299.5,1082.8 302.2,1085.5 305.0,1085.6 307.8,1087.5 310.5,1092.5 312.2,1089.7 313.8,1084.2 315.6,1083.6 317.4,1084.2 319.5,1088.5 321.6,1089.7 323.7,1091.3 325.7,1095.3 327.8,1094.8 329.9,1092.5 331.9,1088.3 334.0,1085.6 336.1,1086.3 338.2,1084.2 340.9,1092.5 343.7,1093.4 346.4,1096.6 349.2,1096.9 352.0,1095.3 354.0,1088.4 356.1,1084.2 357.9,1082.3 359.7,1077.3 361.4,1073.4 363.0,1071.8 365.8,1078.7 367.4,1087.6 369.1,1093.9 370.9,1088.5 372.7,1085.6 375.5,1078.7 378.2,1077.3 380.3,1081.6 382.4,1084.2 385.1,1086.8 387.9,1092.5 390.2,1086.5 392.6,1078.7 394.8,1071.8 397.6,1084.2 399.6,1085.6 401.7,1089.7 404.5,1094.1 407.2,1095.3 409.3,1094.0 411.4,1095.3 413.5,1089.1 415.5,1081.5 417.6,1073.8 419.7,1069.0 421.7,1070.3 423.8,1069.0 426.6,1069.0 428.7,1073.8 430.7,1080.1 432.5,1086.9 434.3,1092.5 436.0,1087.2 437.6,1084.2 439.3,1072.4 441.0,1059.3 443.2,1049.7 445.2,1055.8 447.3,1064.9 450.1,1078.7 452.1,1086.0 454.2,1091.1 457.0,1091.4 459.7,1093.9 462.5,1059.3 464.7,1049.7 467.5,1055.2 469.1,1066.5 470.8,1075.9 473.6,1095.3 476.3,1086.4 479.1,1080.1 481.2,1071.9 483.2,1060.7 486.0,1052.4 488.8,1067.6 491.5,1088.4 493.6,1088.2 495.7,1089.7 497.7,1091.4 499.8,1091.1 501.9,1092.0 504.0,1095.3 506.7,1087.8 509.5,1078.7 511.6,1069.2 513.6,1062.1 516.4,1048.3 519.1,1062.1 521.1,1087.0 523.8,1056.6 526.1,1051.1 528.1,1051.5 530.2,1049.7 533.0,1056.6 535.0,1054.9 537.1,1055.2 539.2,1055.1 541.3,1052.4 543.3,1050.6 545.4,1051.1 547.1,1051.7 548.7,1051.1 550.5,1048.8 552.3,1049.7 555.1,1064.9 557.1,1074.1 559.2,1081.5 562.0,1087.0 564.2,1049.7 565.8,1051.4 567.5,1055.2 569.6,1055.5 571.6,1053.8 573.7,1050.9 575.8,1051.1 577.9,1053.3 579.9,1052.4 582.7,1049.7 584.5,1047.9 586.3,1048.3 589.1,1053.8 591.8,1053.8 593.8,1064.9 596.5,1091.1 599.3,1055.2 602.0,1053.8 604.1,1054.8 606.2,1053.8 608.1,1042.8 610.1,1033.1 611.7,1053.8 613.7,1067.6 616.1,1068.4 618.6,1066.3 621.4,1063.5 624.2,1062.8 626.9,1063.5 629.0,1066.7 631.1,1067.6 633.1,1068.1 635.2,1070.4 637.3,1069.9 639.3,1067.6 641.4,1067.4 643.5,1069.0 645.6,1069.1 647.6,1067.6 650.4,1065.7 653.2,1064.9 655.2,1068.1 657.3,1069.0 659.4,1060.7 661.5,1055.2 664.2,1067.6 667.0,1069.6 669.7,1069.0 671.8,1068.9 673.9,1070.4 676.7,1069.6 679.4,1066.3 681.5,1066.3 683.6,1067.6 686.3,1067.9 689.1,1066.3 691.8,1065.5 694.6,1067.6 696.6,1068.2 698.7,1064.8 700.7,1064.9 702.9,1067.6 705.1,1060.7 706.8,1066.3 708.4,1069.0 711.2,1066.6 714.0,1066.3 716.0,1067.4 718.1,1065.1 720.2,1067.8 722.2,1066.3 725.0,1065.6 727.8,1067.6 729.8,1068.0 731.9,1066.3 733.6,1062.2 735.2,1060.7 737.4,1067.6 740.2,1068.9 743.0,1067.6 744.8,1067.4 746.6,1069.0 749.0,1055.2 751.8,1066.3 753.6,1068.3 755.4,1067.6 757.5,1064.8 759.5,1064.9 761.6,1067.4 763.7,1067.6 766.5,1067.6 768.7,1060.7 771.4,1073.2 773.4,1084.2 775.4,1088.2 777.5,1095.3 780.3,1096.6 782.3,1092.4 784.4,1087.0 787.2,1095.3 789.3,1094.9 791.3,1096.6 793.7,1096.9 796.0,1095.7 798.3,1096.9 800.6,1095.4 803.0,1096.9 805.3,1095.8 807.6,1096.9 809.9,1095.1 812.3,1096.9 814.6,1096.0 816.9,1096.9 819.2,1095.8 821.6,1096.9 823.9,1095.9 826.2,1096.9 828.6,1096.0 830.9,1096.9 833.2,1095.9 835.5,1096.6 838.3,1095.3 840.1,1092.7 841.9,1088.4 843.5,1090.5 845.2,1095.3 847.3,1096.9 849.4,1096.6 851.6,1095.2 853.8,1096.9 856.0,1095.7 858.2,1096.9 860.4,1096.6 862.5,1094.0 864.5,1092.5 867.3,1096.6 869.5,1096.9 871.7,1095.6 873.9,1096.9 876.2,1095.3 878.4,1096.6 881.6,1096.6 883.9,1096.9 886.2,1095.5 888.5,1096.9 890.8,1095.7 893.2,1096.9 895.5,1095.7 897.8,1096.9 900.1,1095.6 902.4,1096.9 904.8,1095.0 907.1,1096.8 909.4,1095.0 911.7,1096.9 914.0,1095.4 916.4,1096.9 918.7,1095.3 921.0,1096.9 923.3,1095.3 925.7,1096.9 928.0,1094.1 930.3,1096.9 932.6,1094.8 934.9,1096.7 937.3,1094.8 939.6,1096.4 941.9,1094.0 944.2,1096.8 946.5,1094.8 948.9,1096.3 951.2,1095.3 953.3,1093.4 955.3,1093.9 957.7,1093.7 960.2,1090.7 962.6,1092.7 965.0,1090.3 967.3,1089.5 969.5,1091.9 971.8,1089.8 974.0,1092.7 976.3,1091.2 978.6,1093.1 980.8,1091.9 983.1,1094.3 985.3,1092.1 987.6,1094.8 989.9,1093.9 992.1,1092.7 994.4,1095.8 996.7,1093.7 998.9,1095.6 1001.2,1093.3 1003.4,1096.3 1005.7,1094.2 1008.0,1096.5 1010.2,1094.7 1012.5,1096.4 1014.7,1095.8 1016.9,1094.8 1019.2,1096.0 1021.4,1093.9 1023.6,1095.4 1025.8,1093.9 1028.0,1092.7 1030.2,1095.4 1032.4,1093.9 1034.6,1096.9 1036.8,1095.8 1039.1,1094.6 1041.3,1096.9 1043.5,1094.5 1045.8,1096.4 1048.0,1094.3 1050.2,1096.9 1052.5,1094.4 1054.7,1096.9 1056.9,1095.2 1059.2,1096.4 1061.4,1095.1 1063.6,1096.9 1065.9,1095.8 1067.9,1091.5 1070.0,1090.3 1072.1,1094.3 1074.1,1095.3 1076.6,1094.4 1079.1,1096.7 1081.6,1094.3 1084.1,1096.6 1086.6,1095.8 1088.7,1094.1 1090.7,1096.9 1092.8,1094.1 1094.9,1095.3 1097.2,1096.8 1099.5,1094.0 1101.9,1096.6 1104.2,1094.5 1106.6,1096.3 1108.9,1094.7 1111.2,1096.2 1113.6,1094.1 1115.9,1096.5 1118.3,1095.1 1120.6,1096.6 1122.9,1095.1 1125.3,1095.8 1127.3,1095.2 1129.4,1092.5 1131.7,1089.3 1134.0,1088.6 1136.3,1085.6 1138.4,1088.0 1140.5,1092.5 1143.2,1090.0 1146.0,1085.6 1148.1,1079.8 1150.1,1075.9 1152.2,1081.5 1154.3,1084.2 1156.4,1088.9 1158.4,1095.3 1161.2,1085.6 1164.0,1093.9 1165.6,1091.6 1167.3,1087.0 1169.1,1082.1 1170.9,1080.1 1172.9,1089.2 1175.0,1095.3 1177.8,1084.2 1179.8,1081.2 1181.9,1080.1 1184.7,1075.9 1186.7,1080.0 1188.8,1082.8 1191.6,1080.1 1193.7,1074.4 1195.7,1071.8 1198.5,1073.2 1200.6,1082.5 1202.6,1089.7 1204.6,1060.7 1206.0,1093.9 1208.4,1094.1 1210.9,1095.8 1213.2,1096.5 1215.5,1095.0 1217.8,1096.7 1220.1,1095.1 1222.4,1096.4 1224.7,1094.2 1227.0,1096.9 1229.3,1095.1 1231.6,1096.9 1234.0,1094.4 1236.3,1096.9 1238.6,1095.8 1241.3,1081.5 1244.1,1091.1 1246.8,1094.7 1249.6,1088.8 1252.4,1084.2 1254.4,1079.6 1256.5,1073.2 1258.6,1070.8 1260.7,1070.4 1262.7,1070.5 1264.8,1067.6 1266.6,1060.9 1268.4,1056.6 1270.1,1063.8 1271.7,1069.0 1274.5,1062.1 1276.1,1063.7 1277.8,1067.6 1279.6,1066.2 1281.4,1063.5 1283.5,1065.7 1285.5,1070.4 1287.2,1062.8 1288.8,1052.4 1290.6,1060.2 1292.4,1070.4 1295.2,1075.9 1297.3,1070.0 1299.3,1062.1 1301.4,1063.3 1303.5,1066.3 1305.4,1048.3 1307.6,1017.3 1310.4,1033.1 1313.2,1034.5 1315.9,1038.6 1318.7,1028.9 1321.5,1042.8 1324.2,1051.1 1327.0,1055.2 1329.1,1053.7 1331.1,1051.1 1333.2,1052.5 1335.3,1055.2 1337.5,1044.1 1340.0,1053.8 1342.2,1025.6 1344.1,1052.4 1345.9,1053.8 1347.7,1053.8 1349.5,1039.7 1351.3,1027.6 1353.0,1033.1 1354.6,1035.9 1357.4,1053.8 1359.6,1024.8 1361.5,1051.1 1363.3,1048.2 1365.1,1046.9 1366.8,1051.4 1368.4,1053.8 1370.6,1082.8 1372.3,1078.8 1374.0,1077.3 1376.7,1081.5 1378.8,1078.5 1380.9,1073.2 1382.9,1075.3 1385.0,1078.7 1387.2,1070.4 1388.9,1078.8 1390.5,1084.2 1392.6,1079.6 1394.7,1077.3 1396.8,1080.3 1398.8,1081.5 1400.9,1082.0 1403.0,1084.2 1405.7,1080.7 1408.5,1074.5 1410.6,1077.2 1412.6,1082.8 1415.4,1082.4 1418.2,1080.1 1420.9,1080.5 1423.7,1082.8 1426.5,1083.0 1429.2,1080.9 1431.3,1081.1 1433.4,1082.8 1435.4,1083.4 1437.5,1082.0 1440.3,1079.5 1443.0,1080.1 1445.1,1082.6 1447.2,1082.8 1449.3,1080.0 1451.3,1080.1 1453.4,1083.0 1455.5,1084.2 1458.2,1070.4 1460.3,1066.2 1462.4,1064.9 1465.1,1073.2 1467.9,1069.0 1470.0,1069.0 1472.0,1066.3 1474.1,1071.7 1476.2,1078.7 1478.3,1081.9 1480.3,1082.8 1482.4,1080.2 1484.5,1080.1 1487.2,1081.9 1490.0,1081.5 1492.1,1081.0 1494.2,1082.8 1496.9,1069.0 1499.7,1075.9 1502.4,1073.2 1505.2,1078.8 1508.0,1082.8 1510.0,1078.9 1512.1,1077.3 1514.9,1081.5 1516.9,1081.7 1519.0,1080.1 1521.1,1083.5 1523.2,1089.7 1525.9,1091.1 1527.6,1090.0 1529.2,1087.0 1530.9,1046.9 1532.8,1080.1 1534.5,1084.7 1536.2,1092.5 1536.2,1098.1 224.3,1098.1" fill="rgba(138,180,248,0.60)"/>
<polyline points="224.3,1096.6 226.5,1096.9 228.7,1095.9 230.9,1096.9 233.2,1096.6 235.1,1091.1 237.3,1096.6 239.6,1094.6 241.9,1096.5 244.2,1095.3 246.3,1093.9 248.4,1093.9 250.4,1095.5 252.5,1094.7 254.6,1094.3 256.6,1095.8 259.4,1092.5 262.2,1084.2 264.9,1081.5 266.3,1096.6 268.4,1096.9 270.5,1095.3 272.4,1085.6 274.2,1082.0 276.0,1080.1 278.1,1087.8 280.1,1092.5 282.9,1095.3 285.7,1091.1 287.7,1089.5 289.8,1089.7 291.2,1084.2 293.3,1084.7 295.3,1082.8 297.4,1081.3 299.5,1082.8 302.2,1085.5 305.0,1085.6 307.8,1087.5 310.5,1092.5 312.2,1089.7 313.8,1084.2 315.6,1083.6 317.4,1084.2 319.5,1088.5 321.6,1089.7 323.7,1091.3 325.7,1095.3 327.8,1094.8 329.9,1092.5 331.9,1088.3 334.0,1085.6 336.1,1086.3 338.2,1084.2 340.9,1092.5 343.7,1093.4 346.4,1096.6 349.2,1096.9 352.0,1095.3 354.0,1088.4 356.1,1084.2 357.9,1082.3 359.7,1077.3 361.4,1073.4 363.0,1071.8 365.8,1078.7 367.4,1087.6 369.1,1093.9 370.9,1088.5 372.7,1085.6 375.5,1078.7 378.2,1077.3 380.3,1081.6 382.4,1084.2 385.1,1086.8 387.9,1092.5 390.2,1086.5 392.6,1078.7 394.8,1071.8 397.6,1084.2 399.6,1085.6 401.7,1089.7 404.5,1094.1 407.2,1095.3 409.3,1094.0 411.4,1095.3 413.5,1089.1 415.5,1081.5 417.6,1073.8 419.7,1069.0 421.7,1070.3 423.8,1069.0 426.6,1069.0 428.7,1073.8 430.7,1080.1 432.5,1086.9 434.3,1092.5 436.0,1087.2 437.6,1084.2 439.3,1072.4 441.0,1059.3 443.2,1049.7 445.2,1055.8 447.3,1064.9 450.1,1078.7 452.1,1086.0 454.2,1091.1 457.0,1091.4 459.7,1093.9 462.5,1059.3 464.7,1049.7 467.5,1055.2 469.1,1066.5 470.8,1075.9 473.6,1095.3 476.3,1086.4 479.1,1080.1 481.2,1071.9 483.2,1060.7 486.0,1052.4 488.8,1067.6 491.5,1088.4 493.6,1088.2 495.7,1089.7 497.7,1091.4 499.8,1091.1 501.9,1092.0 504.0,1095.3 506.7,1087.8 509.5,1078.7 511.6,1069.2 513.6,1062.1 516.4,1048.3 519.1,1062.1 521.1,1087.0 523.8,1056.6 526.1,1051.1 528.1,1051.5 530.2,1049.7 533.0,1056.6 535.0,1054.9 537.1,1055.2 539.2,1055.1 541.3,1052.4 543.3,1050.6 545.4,1051.1 547.1,1051.7 548.7,1051.1 550.5,1048.8 552.3,1049.7 555.1,1064.9 557.1,1074.1 559.2,1081.5 562.0,1087.0 564.2,1049.7 565.8,1051.4 567.5,1055.2 569.6,1055.5 571.6,1053.8 573.7,1050.9 575.8,1051.1 577.9,1053.3 579.9,1052.4 582.7,1049.7 584.5,1047.9 586.3,1048.3 589.1,1053.8 591.8,1053.8 593.8,1064.9 596.5,1091.1 599.3,1055.2 602.0,1053.8 604.1,1054.8 606.2,1053.8 608.1,1042.8 610.1,1033.1 611.7,1053.8 613.7,1067.6 616.1,1068.4 618.6,1066.3 621.4,1063.5 624.2,1062.8 626.9,1063.5 629.0,1066.7 631.1,1067.6 633.1,1068.1 635.2,1070.4 637.3,1069.9 639.3,1067.6 641.4,1067.4 643.5,1069.0 645.6,1069.1 647.6,1067.6 650.4,1065.7 653.2,1064.9 655.2,1068.1 657.3,1069.0 659.4,1060.7 661.5,1055.2 664.2,1067.6 667.0,1069.6 669.7,1069.0 671.8,1068.9 673.9,1070.4 676.7,1069.6 679.4,1066.3 681.5,1066.3 683.6,1067.6 686.3,1067.9 689.1,1066.3 691.8,1065.5 694.6,1067.6 696.6,1068.2 698.7,1064.8 700.7,1064.9 702.9,1067.6 705.1,1060.7 706.8,1066.3 708.4,1069.0 711.2,1066.6 714.0,1066.3 716.0,1067.4 718.1,1065.1 720.2,1067.8 722.2,1066.3 725.0,1065.6 727.8,1067.6 729.8,1068.0 731.9,1066.3 733.6,1062.2 735.2,1060.7 737.4,1067.6 740.2,1068.9 743.0,1067.6 744.8,1067.4 746.6,1069.0 749.0,1055.2 751.8,1066.3 753.6,1068.3 755.4,1067.6 757.5,1064.8 759.5,1064.9 761.6,1067.4 763.7,1067.6 766.5,1067.6 768.7,1060.7 771.4,1073.2 773.4,1084.2 775.4,1088.2 777.5,1095.3 780.3,1096.6 782.3,1092.4 784.4,1087.0 787.2,1095.3 789.3,1094.9 791.3,1096.6 793.7,1096.9 796.0,1095.7 798.3,1096.9 800.6,1095.4 803.0,1096.9 805.3,1095.8 807.6,1096.9 809.9,1095.1 812.3,1096.9 814.6,1096.0 816.9,1096.9 819.2,1095.8 821.6,1096.9 823.9,1095.9 826.2,1096.9 828.6,1096.0 830.9,1096.9 833.2,1095.9 835.5,1096.6 838.3,1095.3 840.1,1092.7 841.9,1088.4 843.5,1090.5 845.2,1095.3 847.3,1096.9 849.4,1096.6 851.6,1095.2 853.8,1096.9 856.0,1095.7 858.2,1096.9 860.4,1096.6 862.5,1094.0 864.5,1092.5 867.3,1096.6 869.5,1096.9 871.7,1095.6 873.9,1096.9 876.2,1095.3 878.4,1096.6 881.6,1096.6 883.9,1096.9 886.2,1095.5 888.5,1096.9 890.8,1095.7 893.2,1096.9 895.5,1095.7 897.8,1096.9 900.1,1095.6 902.4,1096.9 904.8,1095.0 907.1,1096.8 909.4,1095.0 911.7,1096.9 914.0,1095.4 916.4,1096.9 918.7,1095.3 921.0,1096.9 923.3,1095.3 925.7,1096.9 928.0,1094.1 930.3,1096.9 932.6,1094.8 934.9,1096.7 937.3,1094.8 939.6,1096.4 941.9,1094.0 944.2,1096.8 946.5,1094.8 948.9,1096.3 951.2,1095.3 953.3,1093.4 955.3,1093.9 957.7,1093.7 960.2,1090.7 962.6,1092.7 965.0,1090.3 967.3,1089.5 969.5,1091.9 971.8,1089.8 974.0,1092.7 976.3,1091.2 978.6,1093.1 980.8,1091.9 983.1,1094.3 985.3,1092.1 987.6,1094.8 989.9,1093.9 992.1,1092.7 994.4,1095.8 996.7,1093.7 998.9,1095.6 1001.2,1093.3 1003.4,1096.3 1005.7,1094.2 1008.0,1096.5 1010.2,1094.7 1012.5,1096.4 1014.7,1095.8 1016.9,1094.8 1019.2,1096.0 1021.4,1093.9 1023.6,1095.4 1025.8,1093.9 1028.0,1092.7 1030.2,1095.4 1032.4,1093.9 1034.6,1096.9 1036.8,1095.8 1039.1,1094.6 1041.3,1096.9 1043.5,1094.5 1045.8,1096.4 1048.0,1094.3 1050.2,1096.9 1052.5,1094.4 1054.7,1096.9 1056.9,1095.2 1059.2,1096.4 1061.4,1095.1 1063.6,1096.9 1065.9,1095.8 1067.9,1091.5 1070.0,1090.3 1072.1,1094.3 1074.1,1095.3 1076.6,1094.4 1079.1,1096.7 1081.6,1094.3 1084.1,1096.6 1086.6,1095.8 1088.7,1094.1 1090.7,1096.9 1092.8,1094.1 1094.9,1095.3 1097.2,1096.8 1099.5,1094.0 1101.9,1096.6 1104.2,1094.5 1106.6,1096.3 1108.9,1094.7 1111.2,1096.2 1113.6,1094.1 1115.9,1096.5 1118.3,1095.1 1120.6,1096.6 1122.9,1095.1 1125.3,1095.8 1127.3,1095.2 1129.4,1092.5 1131.7,1089.3 1134.0,1088.6 1136.3,1085.6 1138.4,1088.0 1140.5,1092.5 1143.2,1090.0 1146.0,1085.6 1148.1,1079.8 1150.1,1075.9 1152.2,1081.5 1154.3,1084.2 1156.4,1088.9 1158.4,1095.3 1161.2,1085.6 1164.0,1093.9 1165.6,1091.6 1167.3,1087.0 1169.1,1082.1 1170.9,1080.1 1172.9,1089.2 1175.0,1095.3 1177.8,1084.2 1179.8,1081.2 1181.9,1080.1 1184.7,1075.9 1186.7,1080.0 1188.8,1082.8 1191.6,1080.1 1193.7,1074.4 1195.7,1071.8 1198.5,1073.2 1200.6,1082.5 1202.6,1089.7 1204.6,1060.7 1206.0,1093.9 1208.4,1094.1 1210.9,1095.8 1213.2,1096.5 1215.5,1095.0 1217.8,1096.7 1220.1,1095.1 1222.4,1096.4 1224.7,1094.2 1227.0,1096.9 1229.3,1095.1 1231.6,1096.9 1234.0,1094.4 1236.3,1096.9 1238.6,1095.8 1241.3,1081.5 1244.1,1091.1 1246.8,1094.7 1249.6,1088.8 1252.4,1084.2 1254.4,1079.6 1256.5,1073.2 1258.6,1070.8 1260.7,1070.4 1262.7,1070.5 1264.8,1067.6 1266.6,1060.9 1268.4,1056.6 1270.1,1063.8 1271.7,1069.0 1274.5,1062.1 1276.1,1063.7 1277.8,1067.6 1279.6,1066.2 1281.4,1063.5 1283.5,1065.7 1285.5,1070.4 1287.2,1062.8 1288.8,1052.4 1290.6,1060.2 1292.4,1070.4 1295.2,1075.9 1297.3,1070.0 1299.3,1062.1 1301.4,1063.3 1303.5,1066.3 1305.4,1048.3 1307.6,1017.3 1310.4,1033.1 1313.2,1034.5 1315.9,1038.6 1318.7,1028.9 1321.5,1042.8 1324.2,1051.1 1327.0,1055.2 1329.1,1053.7 1331.1,1051.1 1333.2,1052.5 1335.3,1055.2 1337.5,1044.1 1340.0,1053.8 1342.2,1025.6 1344.1,1052.4 1345.9,1053.8 1347.7,1053.8 1349.5,1039.7 1351.3,1027.6 1353.0,1033.1 1354.6,1035.9 1357.4,1053.8 1359.6,1024.8 1361.5,1051.1 1363.3,1048.2 1365.1,1046.9 1366.8,1051.4 1368.4,1053.8 1370.6,1082.8 1372.3,1078.8 1374.0,1077.3 1376.7,1081.5 1378.8,1078.5 1380.9,1073.2 1382.9,1075.3 1385.0,1078.7 1387.2,1070.4 1388.9,1078.8 1390.5,1084.2 1392.6,1079.6 1394.7,1077.3 1396.8,1080.3 1398.8,1081.5 1400.9,1082.0 1403.0,1084.2 1405.7,1080.7 1408.5,1074.5 1410.6,1077.2 1412.6,1082.8 1415.4,1082.4 1418.2,1080.1 1420.9,1080.5 1423.7,1082.8 1426.5,1083.0 1429.2,1080.9 1431.3,1081.1 1433.4,1082.8 1435.4,1083.4 1437.5,1082.0 1440.3,1079.5 1443.0,1080.1 1445.1,1082.6 1447.2,1082.8 1449.3,1080.0 1451.3,1080.1 1453.4,1083.0 1455.5,1084.2 1458.2,1070.4 1460.3,1066.2 1462.4,1064.9 1465.1,1073.2 1467.9,1069.0 1470.0,1069.0 1472.0,1066.3 1474.1,1071.7 1476.2,1078.7 1478.3,1081.9 1480.3,1082.8 1482.4,1080.2 1484.5,1080.1 1487.2,1081.9 1490.0,1081.5 1492.1,1081.0 1494.2,1082.8 1496.9,1069.0 1499.7,1075.9 1502.4,1073.2 1505.2,1078.8 1508.0,1082.8 1510.0,1078.9 1512.1,1077.3 1514.9,1081.5 1516.9,1081.7 1519.0,1080.1 1521.1,1083.5 1523.2,1089.7 1525.9,1091.1 1527.6,1090.0 1529.2,1087.0 1530.9,1046.9 1532.8,1080.1 1534.5,1084.7 1536.2,1092.5" fill="none" stroke="#8ab4f8" stroke-width="2.0" stroke-linejoin="round"/>
<polygon points="266.3,1098.1 269.6,1063.5 272.4,1082.0 1148.7,1082.3 1152.0,1073.7 1430.6,1047.7 1430.8,1098.1" fill="rgba(178,127,216,0.62)"/>
<polyline points="266.3,1098.1 269.6,1063.5 272.4,1082.0 1148.7,1082.3 1152.0,1073.7 1430.6,1047.7" fill="none" stroke="#b27fd8" stroke-width="2.2" stroke-linejoin="round"/>
<rect x="232.4" y="1096.5" width="8" height="2.0" fill="#b27fd8"/><rect x="240.4" y="1096.5" width="4" height="2.0" fill="#de5060"/><rect x="244.4" y="1096.5" width="4" height="2.0" fill="#1c4278"/><rect x="248.4" y="1096.5" width="14" height="2.0" fill="#4d8838"/><rect x="262.4" y="1096.5" width="10" height="2.0" fill="#584878"/><rect x="272.4" y="1096.5" width="4" height="2.0" fill="#f9ba8f"/><rect x="276.4" y="1096.5" width="28" height="2.0" fill="#f29191"/><rect x="304.4" y="1096.5" width="6" height="2.0" fill="#e5a8e2"/><rect x="310.4" y="1096.5" width="4" height="2.0" fill="#f29191"/><rect x="314.4" y="1096.5" width="4" height="2.0" fill="#f7de4e"/><rect x="318.4" y="1096.5" width="28" height="2.0" fill="#b27fd8"/><rect x="346.4" y="1096.5" width="6" height="2.0" fill="#f9ba8f"/><rect x="352.4" y="1096.5" width="8" height="2.0" fill="#f9ba8f"/><rect x="360.4" y="1096.5" width="6" height="2.0" fill="#5f94ea"/><rect x="366.4" y="1096.5" width="20" height="2.0" fill="#4d8838"/><rect x="386.4" y="1096.5" width="14" height="2.0" fill="#ffffff"/><rect x="400.4" y="1096.5" width="4" height="2.0" fill="#82b5d8"/><rect x="404.4" y="1096.5" width="20" height="2.0" fill="#f9ba8f"/><rect x="424.4" y="1096.5" width="8" height="2.0" fill="#b9dcae"/><rect x="432.4" y="1096.5" width="10" height="2.0" fill="#1c4278"/><rect x="442.4" y="1096.5" width="28" height="2.0" fill="#6f5f9f"/><rect x="470.4" y="1096.5" width="6" height="2.0" fill="#de5060"/><rect x="476.4" y="1096.5" width="14" height="2.0" fill="#f4d598"/><rect x="490.4" y="1096.5" width="20" height="2.0" fill="#b9dcae"/><rect x="510.4" y="1096.5" width="4" height="2.0" fill="#5f94ea"/><rect x="514.4" y="1096.5" width="6" height="2.0" fill="#e0752d"/><rect x="520.4" y="1096.5" width="10" height="2.0" fill="#584878"/><rect x="530.4" y="1096.5" width="20" height="2.0" fill="#de5060"/><rect x="550.4" y="1096.5" width="14" height="2.0" fill="#bf1b00"/><rect x="564.4" y="1096.5" width="8" height="2.0" fill="#82200f"/><rect x="572.4" y="1096.5" width="14" height="2.0" fill="#f4d598"/><rect x="586.4" y="1096.5" width="10" height="2.0" fill="#de5060"/><rect x="596.4" y="1096.5" width="8" height="2.0" fill="#f4d598"/><rect x="604.4" y="1096.5" width="4" height="2.0" fill="#7fbf70"/><rect x="608.4" y="1096.5" width="8" height="2.0" fill="#e5a8e2"/><rect x="616.4" y="1096.5" width="20" height="2.0" fill="#0a50a1"/><rect x="636.4" y="1096.5" width="20" height="2.0" fill="#672460"/><rect x="664.4" y="1096.5" width="8" height="2.0" fill="#6f5f9f"/><rect x="672.4" y="1096.5" width="10" height="2.0" fill="#7fbf70"/><rect x="682.4" y="1096.5" width="8" height="2.0" fill="#b27fd8"/><rect x="690.4" y="1096.5" width="10" height="2.0" fill="#672460"/><rect x="700.4" y="1096.5" width="10" height="2.0" fill="#de5060"/><rect x="710.4" y="1096.5" width="10" height="2.0" fill="#f9ba8f"/><rect x="720.4" y="1096.5" width="6" height="2.0" fill="#0a50a1"/><rect x="726.4" y="1096.5" width="14" height="2.0" fill="#4a7eba"/><rect x="740.4" y="1096.5" width="8" height="2.0" fill="#aea2e0"/><rect x="748.4" y="1096.5" width="6" height="2.0" fill="#b27fd8"/><rect x="754.4" y="1096.5" width="6" height="2.0" fill="#f7de4e"/><rect x="760.4" y="1096.5" width="4" height="2.0" fill="#f4d598"/><rect x="764.4" y="1096.5" width="6" height="2.0" fill="#4a7eba"/><rect x="770.4" y="1096.5" width="6" height="2.0" fill="#584878"/><rect x="776.4" y="1096.5" width="14" height="2.0" fill="#f29191"/><rect x="790.4" y="1096.5" width="6" height="2.0" fill="#ffffff"/><rect x="796.4" y="1096.5" width="14" height="2.0" fill="#e5a8e2"/><rect x="810.4" y="1096.5" width="4" height="2.0" fill="#b9dcae"/><rect x="814.4" y="1096.5" width="28" height="2.0" fill="#65c5db"/><rect x="842.4" y="1096.5" width="14" height="2.0" fill="#672460"/><rect x="856.4" y="1096.5" width="10" height="2.0" fill="#5f94ea"/><rect x="866.4" y="1096.5" width="10" height="2.0" fill="#7fbf70"/><rect x="876.4" y="1096.5" width="6" height="2.0" fill="#b9dcae"/><rect x="882.4" y="1096.5" width="8" height="2.0" fill="#82b5d8"/><rect x="890.4" y="1096.5" width="4" height="2.0" fill="#f29191"/><rect x="894.4" y="1096.5" width="4" height="2.0" fill="#1c4278"/><rect x="898.4" y="1096.5" width="4" height="2.0" fill="#65c5db"/><rect x="902.4" y="1096.5" width="10" height="2.0" fill="#b27fd8"/><rect x="912.4" y="1096.5" width="8" height="2.0" fill="#82b5d8"/><rect x="920.4" y="1096.5" width="4" height="2.0" fill="#5f94ea"/><rect x="924.4" y="1096.5" width="10" height="2.0" fill="#f4d598"/><rect x="934.4" y="1096.5" width="4" height="2.0" fill="#b27fd8"/><rect x="938.4" y="1096.5" width="8" height="2.0" fill="#3f6833"/><rect x="946.4" y="1096.5" width="28" height="2.0" fill="#ffffff"/><rect x="978.4" y="1096.5" width="14" height="2.0" fill="#1c4278"/><rect x="992.4" y="1096.5" width="14" height="2.0" fill="#ee8434"/><rect x="1006.4" y="1096.5" width="8" height="2.0" fill="#e5a8e2"/><rect x="1014.4" y="1096.5" width="20" height="2.0" fill="#65c5db"/><rect x="1034.4" y="1096.5" width="8" height="2.0" fill="#6f5f9f"/><rect x="1042.4" y="1096.5" width="6" height="2.0" fill="#f9ba8f"/><rect x="1048.4" y="1096.5" width="14" height="2.0" fill="#82200f"/><rect x="1062.4" y="1096.5" width="14" height="2.0" fill="#bf1b00"/><rect x="1076.4" y="1096.5" width="28" height="2.0" fill="#65c5db"/><rect x="1104.4" y="1096.5" width="6" height="2.0" fill="#0a50a1"/><rect x="1110.4" y="1096.5" width="28" height="2.0" fill="#f7de4e"/><rect x="1138.4" y="1096.5" width="10" height="2.0" fill="#1c4278"/><rect x="1148.4" y="1096.5" width="4" height="2.0" fill="#bf1b00"/><rect x="1152.4" y="1096.5" width="8" height="2.0" fill="#4d8838"/><rect x="1160.4" y="1096.5" width="8" height="2.0" fill="#b9dcae"/><rect x="1188.4" y="1096.5" width="8" height="2.0" fill="#de5060"/><rect x="1196.4" y="1096.5" width="6" height="2.0" fill="#f4d598"/><rect x="1202.4" y="1096.5" width="6" height="2.0" fill="#f4d598"/><rect x="1208.4" y="1096.5" width="14" height="2.0" fill="#0a50a1"/><rect x="1222.4" y="1096.5" width="20" height="2.0" fill="#1c4278"/><rect x="1242.4" y="1096.5" width="4" height="2.0" fill="#0a50a1"/><rect x="1246.4" y="1096.5" width="10" height="2.0" fill="#bf1b00"/><rect x="1256.4" y="1096.5" width="6" height="2.0" fill="#f4d598"/><rect x="1262.4" y="1096.5" width="10" height="2.0" fill="#bf1b00"/><rect x="1276.4" y="1096.5" width="20" height="2.0" fill="#672460"/><rect x="1296.4" y="1096.5" width="20" height="2.0" fill="#de5060"/><rect x="1316.4" y="1096.5" width="6" height="2.0" fill="#b27fd8"/><rect x="1322.4" y="1096.5" width="14" height="2.0" fill="#b9dcae"/><rect x="1336.4" y="1096.5" width="6" height="2.0" fill="#82b5d8"/><rect x="1352.4" y="1096.5" width="6" height="2.0" fill="#f9ba8f"/><rect x="1358.4" y="1096.5" width="4" height="2.0" fill="#ee8434"/><rect x="1362.4" y="1096.5" width="20" height="2.0" fill="#e5a8e2"/><rect x="1382.4" y="1096.5" width="20" height="2.0" fill="#b27fd8"/><rect x="1402.4" y="1096.5" width="28" height="2.0" fill="#4d8838"/><rect x="1430.4" y="1096.5" width="6" height="2.0" fill="#ee8434"/><rect x="1436.4" y="1096.5" width="8" height="2.0" fill="#70dbed"/><rect x="1444.4" y="1096.5" width="14" height="2.0" fill="#82200f"/><rect x="1458.4" y="1096.5" width="10" height="2.0" fill="#0a50a1"/><rect x="1468.4" y="1096.5" width="20" height="2.0" fill="#1c4278"/><rect x="1488.4" y="1096.5" width="20" height="2.0" fill="#f29191"/><rect x="1508.4" y="1096.5" width="14" height="2.0" fill="#584878"/><rect x="1522.4" y="1096.5" width="14" height="2.0" fill="#b27fd8"/>
<g class="ax" clip-path="url(#cl2)"><text x="224.4" y="1134.6" text-anchor="middle">01/08 00:00</text><text x="443.4" y="1134.6" text-anchor="middle">01/08 08:00</text><text x="662.5" y="1134.6" text-anchor="middle">01/08 16:00</text><text x="881.5" y="1134.6" text-anchor="middle">01/09 00:00</text><text x="1100.5" y="1134.6" text-anchor="middle">01/09 08:00</text><text x="1319.6" y="1134.6" text-anchor="middle">01/09 16:00</text><text x="206.3" y="1102.9" text-anchor="end">0</text><text x="206.3" y="996.0" text-anchor="end">200</text><text x="206.3" y="889.1" text-anchor="end">400</text></g>
</svg><div class="lgclip"><div class="lgi" style="left:196px;top:1144px"><i style="background:#7fbf70"></i><b style="letter-spacing:0.115px">https://douban.city</b></div><div class="lgi" style="left:468px;top:1144px"><i style="background:#ecd04a"></i><b style="letter-spacing:0px">-</b></div><div class="lgi" style="left:538.2px;top:1144px"><i style="background:#8ab4f8"></i><b style="letter-spacing:0.219px">https://douban.city/</b></div><div class="lgi" style="left:820px;top:1144px"><i style="background:#ee8434"></i><b style="letter-spacing:0.218px">https://www.google.com/</b></div><div class="lgi" style="left:1164px;top:1144px"><i style="background:#de5060"></i><b style="letter-spacing:0.031px">http://104.21.61.207:80/</b></div><div class="lgi" style="left:1497px;top:1144px"><i style="background:#5f94ea"></i><b style="letter-spacing:0.6px">https://douban.city/@immmmm</b></div><div class="lgi" style="left:196px;top:1188px"><i style="background:#b9dcae"></i><b style="letter-spacing:-0.233px">https://douban.city/%40heyman/with_replies?max_id=105104522819770941</b></div><div class="lgi" style="left:1101.1px;top:1188px"><i style="background:#f4d598"></i><b style="letter-spacing:0.28px">https://douban.city/@starstarzzz/105551875637886539</b></div><div class="lgi" style="left:196px;top:1232px"><i style="background:#bf3a1c"></i><b style="letter-spacing:-0.059px">https://douban.city/%40camper42/105551875637886539</b></div><div class="lgi" style="left:891.9px;top:1232px"><i style="background:#1f4e9c"></i><b style="letter-spacing:0.018px">http://blog.everpcpc.com/wp-login.php</b></div><div class="lgi" style="left:1381.9px;top:1232px"><i style="background:#8f3b8c"></i><b style="letter-spacing:0.6px">https://douban.city/web/timelines/home</b></div><div class="lgi" style="left:196px;top:1276px"><i style="background:#8f7428"></i><b style="letter-spacing:-0.181px">https://douban.city/@everpcpc/with_replies?max_id=107018892966971720</b></div><div class="lgi" style="left:1090px;top:1276px"><i style="background:#3f5f63"></i><b style="letter-spacing:0.22px">https://douban.city/%40heyman/105104522819770941</b></div></div>
<div class="bl" style="left:1606px;top:815.6px;width:535.0px;letter-spacing:0px">-</div><div class="bf" style="left:2162px;top:820.1px;width:556px;background:linear-gradient(90deg,#7cbe68 0%,#f5e05a 50%,#e2525f 100%)"></div><div class="bv" style="left:2775px;top:813.0px;width:200.400px;color:#e2525f">67724</div><div class="bl" style="left:1606px;top:866.8px;width:535.2px;letter-spacing:0.245px">https://douban.city/</div><div class="bb" style="left:2159px;top:871.2px;width:553px"></div><div class="bf" style="left:2162px;top:871.2px;width:133.5px;border-radius:4px;background:linear-gradient(90deg,#7cbe68 0px,#f5e05a 275.0px,#e2525f 550px)"></div><div class="bv" style="left:2775px;top:864.1px;width:200.400px;color:#b7ce61">16371</div><div class="bl" style="left:1606px;top:917.9px;width:535.1px;letter-spacing:0.054px">https://douban.city</div><div class="bb" style="left:2159px;top:922.4px;width:553px"></div><div class="bf" style="left:2162px;top:922.4px;width:5.2px;border-radius:2px;background:linear-gradient(90deg,#7cbe68 0px,#f5e05a 275.0px,#e2525f 550px)"></div><div class="bv" style="left:2775px;top:915.3px;width:200.400px;color:#7cbe68">575</div><div class="bl" style="left:1606px;top:969.0px;width:534.8px;letter-spacing:-0.19px">www.bing.com</div><div class="bb" style="left:2159px;top:973.5px;width:553px"></div><div class="bf" style="left:2162px;top:973.5px;width:2.6px;border-radius:0;background:linear-gradient(90deg,#7cbe68 0px,#f5e05a 275.0px,#e2525f 550px)"></div><div class="bv" style="left:2775px;top:966.4px;width:200.400px;color:#7cbe68">283</div><div class="bl" style="left:1606px;top:1020.2px;width:535.2px;letter-spacing:0.219px">https://www.google.com/</div><div class="bb" style="left:2159px;top:1024.7px;width:553px"></div><div class="bf" style="left:2162px;top:1024.7px;width:2.4px;border-radius:0;background:linear-gradient(90deg,#7cbe68 0px,#f5e05a 275.0px,#e2525f 550px)"></div><div class="bv" style="left:2775px;top:1017.6px;width:200.400px;color:#7cbe68">43</div><div class="bl" style="left:1606px;top:1071.3px;text-align:left;letter-spacing:-0.028px">https://douban.city/packs/css/mastodon-light-…</div><div class="bb" style="left:2159px;top:1075.8px;width:553px"></div><div class="bf" style="left:2162px;top:1075.8px;width:2.4px;border-radius:0;background:linear-gradient(90deg,#7cbe68 0px,#f5e05a 275.0px,#e2525f 550px)"></div><div class="bv" style="left:2775px;top:1068.8px;width:200.400px;color:#7cbe68">23</div><div class="bl" style="left:1606px;top:1122.5px;text-align:left;letter-spacing:-0.228px">https://douban.city/%40everpcpc/tagged/bang…</div><div class="bb" style="left:2159px;top:1127.0px;width:553px"></div><div class="bf" style="left:2162px;top:1127.0px;width:2.4px;border-radius:0;background:linear-gradient(90deg,#7cbe68 0px,#f5e05a 275.0px,#e2525f 550px)"></div><div class="bv" style="left:2775px;top:1119.9px;width:200.400px;color:#7cbe68">19</div><div class="bl" style="left:1606px;top:1173.7px;width:535.3px;letter-spacing:0.28px">https://douban.city/about/</div><div class="bb" style="left:2159px;top:1178.2px;width:553px"></div><div class="bf" style="left:2162px;top:1178.2px;width:2.4px;border-radius:0;background:linear-gradient(90deg,#7cbe68 0px,#f5e05a 275.0px,#e2525f 550px)"></div><div class="bv" style="left:2775px;top:1171.1px;width:200.400px;color:#7cbe68">18</div><div class="bl" style="left:1606px;top:1224.8px;width:535.2px;letter-spacing:0.16px">https://douban.city/sw.js</div><div class="bb" style="left:2159px;top:1229.3px;width:553px"></div><div class="bf" style="left:2162px;top:1229.3px;width:2.4px;border-radius:0;background:linear-gradient(90deg,#7cbe68 0px,#f5e05a 275.0px,#e2525f 550px)"></div><div class="bv" style="left:2775px;top:1222.2px;width:200.400px;color:#7cbe68">14</div><div class="bl" style="left:1606px;top:1276.0px;text-align:left;letter-spacing:-0.043px">https://douban.city/packs/css/common-a844d…</div><div class="bb" style="left:2159px;top:1280.5px;width:553px"></div><div class="bf" style="left:2162px;top:1280.5px;width:2.4px;border-radius:0;background:linear-gradient(90deg,#7cbe68 0px,#f5e05a 275.0px,#e2525f 550px)"></div><div class="bv" style="left:2775px;top:1273.4px;width:200.400px;color:#7cbe68">11</div>

<svg class="chart" style="left:0;top:0" width="3024" height="1614" viewBox="0 0 3024 1614">
<defs><clipPath id="cl3"><rect x="164" y="1400" width="1400" height="214"/></clipPath></defs>
<g stroke="rgba(204,204,220,0.12)" stroke-width="1.3" fill="none"><line x1="224.4" y1="1445" x2="224.4" y2="1709"/><line x1="443.4" y1="1445" x2="443.4" y2="1709"/><line x1="662.5" y1="1445" x2="662.5" y2="1709"/><line x1="881.5" y1="1445" x2="881.5" y2="1709"/><line x1="1100.5" y1="1445" x2="1100.5" y2="1709"/><line x1="1319.6" y1="1445" x2="1319.6" y2="1709"/><line x1="215.9" y1="1478.3" x2="1538.6" y2="1478.3"/><line x1="215.9" y1="1592.4" x2="1538.6" y2="1592.4"/></g>
<g clip-path="url(#cl3)"><polygon points="234.2,1700.0 234.4,1577.0 238.0,1491.9 256.0,1614.0 270.0,1700.0" fill="#4f1f47" stroke="#7d2a72" stroke-width="2.4" stroke-linejoin="round"/><polygon points="410.0,1700.0 411.5,1500.0 413.0,1470.0 416.5,1492.0 419.0,1700.0" fill="#5f7b9a" stroke="#8ab8e0" stroke-width="2.4" stroke-linejoin="round"/><polygon points="223.0,1700.0 224.4,1608.0 227.0,1700.0" fill="#5f7b9a" stroke="#8ab8e0" stroke-width="2.4" stroke-linejoin="round"/><polygon points="480.0,1700.0 502.0,1614.0 554.8,1542.3 557.5,1575.0 559.5,1576.0 561.0,1614.0 566.0,1700.0" fill="#5f7b9a" stroke="#8ab8e0" stroke-width="2.4" stroke-linejoin="round"/><polygon points="440.0,1603.0 443.0,1614.0 446.0,1620.0 462.0,1618.0 464.0,1602.0 468.0,1614.0 470.0,1625.0 484.0,1622.0 486.0,1609.0 488.0,1625.0 512.0,1622.0 516.0,1600.0 519.0,1616.0 523.0,1612.0 529.0,1599.0 532.0,1618.0 540.0,1612.0 546.0,1606.0 552.0,1606.0 554.0,1618.0 562.0,1620.0 564.0,1605.0 567.0,1612.0 569.0,1622.0 572.0,1608.0 575.0,1604.0 578.0,1609.0 581.0,1601.0 583.0,1608.0 587.0,1600.0 590.0,1614.0 596.0,1622.0 600.0,1609.0 604.0,1612.0 608.0,1609.0 612.0,1616.0 620.0,1630.0 620.0,1700.0 440.0,1700.0" fill="rgba(110,160,70,0.55)" stroke="#7db356" stroke-width="2"/><polygon points="872.0,1700.0 872.0,1560.3 925.0,1560.3 1191.8,1566.7 1192.5,1700.0" fill="#521a17" stroke="#8c2218" stroke-width="2.2" stroke-linejoin="round"/><polygon points="891.0,1700.0 894.6,1575.6 898.0,1700.0" fill="#c87a7a" stroke="#f4a3a3" stroke-width="2" stroke-linejoin="round"/><polygon points="862.0,1700.0 866.5,1590.0 870.0,1603.0 871.0,1700.0" fill="#5f7b9a" stroke="#8ab8e0" stroke-width="2.4" stroke-linejoin="round"/><polygon points="782.8,1700.0 784.5,1604.5 786.0,1590.5 787.8,1606.5 789.5,1700.0" fill="#5f7b9a" stroke="#8ab8e0" stroke-width="2" stroke-linejoin="round"/><polygon points="1226.8,1700.0 1228.5,1623.0 1230.0,1609.0 1231.8,1625.0 1233.5,1700.0" fill="#5f7b9a" stroke="#8ab8e0" stroke-width="2" stroke-linejoin="round"/><polygon points="1315.5,1700.0 1317.2,1603.0 1318.7,1589.0 1320.5,1605.0 1322.2,1700.0" fill="#5f7b9a" stroke="#8ab8e0" stroke-width="2" stroke-linejoin="round"/><polygon points="1438.3,1700.0 1440.0,1611.0 1441.5,1597.0 1443.3,1613.0 1445.0,1700.0" fill="#5f7b9a" stroke="#8ab8e0" stroke-width="2" stroke-linejoin="round"/><polygon points="1459.8,1700.0 1461.5,1607.0 1463.0,1593.0 1464.8,1609.0 1466.5,1700.0" fill="#5f7b9a" stroke="#8ab8e0" stroke-width="2" stroke-linejoin="round"/><polygon points="1470.8,1700.0 1472.5,1606.0 1474.0,1592.0 1475.8,1608.0 1477.5,1700.0" fill="#5f7b9a" stroke="#8ab8e0" stroke-width="2" stroke-linejoin="round"/><polygon points="1486.8,1700.0 1488.5,1621.0 1490.0,1607.0 1491.8,1623.0 1493.5,1700.0" fill="#5f7b9a" stroke="#8ab8e0" stroke-width="2" stroke-linejoin="round"/><polygon points="1498.8,1700.0 1500.5,1615.0 1502.0,1601.0 1503.8,1617.0 1505.5,1700.0" fill="#5f7b9a" stroke="#8ab8e0" stroke-width="2" stroke-linejoin="round"/><polygon points="1507.6,1700.0 1509.3,1588.2 1510.8,1574.2 1512.6,1590.2 1514.3,1700.0" fill="#5f7b9a" stroke="#8ab8e0" stroke-width="2" stroke-linejoin="round"/><polygon points="824.8,1700.0 826.5,1613.0 828.0,1599.0 829.8,1615.0 831.5,1700.0" fill="#5f7b9a" stroke="#8ab8e0" stroke-width="2" stroke-linejoin="round"/><polygon points="831.8,1700.0 833.5,1620.0 835.0,1606.0 836.8,1622.0 838.5,1700.0" fill="#5f7b9a" stroke="#8ab8e0" stroke-width="2" stroke-linejoin="round"/><polygon points="837.8,1700.0 839.5,1614.0 841.0,1600.0 842.8,1616.0 844.5,1700.0" fill="#5f7b9a" stroke="#8ab8e0" stroke-width="2" stroke-linejoin="round"/><polygon points="844.8,1700.0 846.5,1617.0 848.0,1603.0 849.8,1619.0 851.5,1700.0" fill="#5f7b9a" stroke="#8ab8e0" stroke-width="2" stroke-linejoin="round"/><polygon points="852.8,1700.0 854.5,1614.0 856.0,1600.0 857.8,1616.0 859.5,1700.0" fill="#5f7b9a" stroke="#8ab8e0" stroke-width="2" stroke-linejoin="round"/><polygon points="1350.0,1700.0 1353.0,1587.0 1356.0,1700.0" fill="#5b4b8a" stroke="#6f5fb0" stroke-width="2" stroke-linejoin="round"/><polygon points="1357.0,1700.0 1360.0,1577.0 1363.0,1700.0" fill="#5b4b8a" stroke="#6f5fb0" stroke-width="2" stroke-linejoin="round"/><polygon points="829.8,1700.0 832.8,1592.0 835.8,1700.0" fill="#5b4b8a" stroke="#6f5fb0" stroke-width="2" stroke-linejoin="round"/><polygon points="1316.0,1700.0 1319.0,1610.0 1322.0,1700.0" fill="#5b4b8a" stroke="#6f5fb0" stroke-width="2" stroke-linejoin="round"/><polygon points="1380.0,1700.0 1388.0,1614.0 1431.5,1563.0 1433.0,1555.0 1435.0,1572.0 1438.5,1614.0 1440.0,1700.0" fill="#5f7b9a" stroke="#8ab8e0" stroke-width="2.4" stroke-linejoin="round"/><polygon points="1528.5,1700.0 1530.7,1596.0 1533.0,1700.0" fill="#5c8a3a" stroke="#8cc152" stroke-width="2" stroke-linejoin="round"/></g>
<g class="ax"><text x="206.3" y="1483.1" text-anchor="end">200</text><text x="206.3" y="1597.2" text-anchor="end">100</text></g>
</svg>
<div class="bl" style="left:1606px;top:1423.6px;text-align:left;letter-spacing:-0.367px">pub-relay/0.2.1 (https://mastodon-relay.moew.s…</div><div class="bf" style="left:2162px;top:1428.1px;width:556px;background:linear-gradient(90deg,#7cbe68 0%,#f5e05a 50%,#e2525f 100%)"></div><div class="bv" style="left:2775px;top:1421.0px;width:200.400px;color:#e2525f">24808</div><div class="bl" style="left:1606px;top:1474.8px;text-align:left;letter-spacing:-0.684px">ACG.MN ActivityPub Relay Service (golang net/…</div><div class="bb" style="left:2159px;top:1479.2px;width:553px"></div><div class="bf" style="left:2162px;top:1479.2px;width:487.5px;border-radius:4px;background:linear-gradient(90deg,#7cbe68 0px,#f5e05a 275.0px,#e2525f 550px)"></div><div class="bv" style="left:2775px;top:1472.2px;width:200.400px;color:#e7745e">21920</div><div class="bl" style="left:1606px;top:1525.9px;text-align:left;letter-spacing:-0.548px">Mozilla/5.0 (Macintosh; Intel Mac OS X 10.15; r…</div><div class="bb" style="left:2159px;top:1530.4px;width:553px"></div><div class="bf" style="left:2162px;top:1530.4px;width:273.5px;border-radius:4px;background:linear-gradient(90deg,#7cbe68 0px,#f5e05a 275.0px,#e2525f 550px)"></div><div class="bv" style="left:2775px;top:1523.3px;width:200.400px;color:#f4e05a">12589</div><div class="bl" style="left:1606px;top:1577.0px;text-align:left;letter-spacing:-0.646px">Mozilla/5.0 (Macintosh; Intel Mac OS X 10_15_…</div><div class="bb" style="left:2159px;top:1581.5px;width:553px"></div><div class="bf" style="left:2162px;top:1581.5px;width:63.6px;border-radius:4px;background:linear-gradient(90deg,#7cbe68 0px,#f5e05a 275.0px,#e2525f 550px)"></div><div class="bv" style="left:2775px;top:1574.5px;width:200.400px;color:#94c565">3456</div><div class="bl" style="left:1606px;top:1628.2px;text-align:left;letter-spacing:-0.562px">Mozilla/5.0 (X11; Linux x86_64) AppleWebKit/5…</div><div class="bb" style="left:2159px;top:1632.7px;width:553px"></div><div class="bf" style="left:2162px;top:1632.7px;width:30px;border-radius:4px;background:linear-gradient(90deg,#7cbe68 0px,#f5e05a 275.0px,#e2525f 550px)"></div><div class="bv" style="left:2775px;top:1625.6px;width:200.400px;color:#88c167">2214</div>

<div id="side"></div>
<svg class="ic" style="left:26px;top:34px" width="64" height="64" viewBox="0 0 1375 1375">
<defs><linearGradient id="lg" gradientUnits="userSpaceOnUse" x1="0" y1="172" x2="0" y2="1180"><stop offset="0" stop-color="#df5c3a"/><stop offset="0.25" stop-color="#e2693a"/><stop offset="0.55" stop-color="#e9963c"/><stop offset="1" stop-color="#f4cd3d"/></linearGradient>
<clipPath id="lgc"><ellipse cx="765" cy="688" rx="318" ry="300"/></clipPath></defs>
<path d="M690,172 L735,215 L790,270 L870,285 L950,268 L1000,300 L1015,370 L1060,450 L1100,540 L1122,640 L1118,655 L1108,676 L1080,690 L1000,760 L1058,805 L1080,850 L1102,888 L1090,925 L1010,965 L935,1040 L905,1110 L860,1160 L800,1180 L760,1160 L740,1125 L640,1105 L585,1100 L500,1150 L430,1160 L405,1130 L400,1040 L385,960 L330,905 L230,850 L175,795 L195,760 L290,690 L325,600 L315,530 L275,420 L275,355 L320,335 L450,330 L560,290 L610,235 L660,185Z" fill="url(#lg)" stroke="url(#lg)" stroke-width="8" stroke-linejoin="round"/>
<ellipse cx="765" cy="688" rx="318" ry="300" fill="#1b1c20"/>
<g clip-path="url(#lgc)">
<circle cx="812" cy="742" r="232" fill="url(#lg)"/>
<path d="M1000,760 L1058,805 L1080,850 L1102,900 L960,960 L900,900 Z" fill="url(#lg)"/>
</g>
<path d="M812,742 L1013,965 L760,1068 L552,892 Z" fill="#1b1c20" clip-path="url(#lgc)"/>
<circle cx="792" cy="758" r="137" fill="#1b1c20"/>
<path d="M611,858 C 630,880 645,888 660,892 C 700,905 770,900 800,880 L 824,850 L 808,846 C 790,868 740,885 700,868 L 673,826 Z" fill="url(#lg)"/>
</svg>
<svg class="ic" style="left:32px;top:138px;color:#8e8e98" width="48" height="48" viewBox="0 0 24 24" fill="none" stroke="currentColor" stroke-width="2.0" stroke-linecap="round" stroke-linejoin="round"><circle cx="11" cy="11" r="8"/><path d="M17 17l4.600 4.600"/></svg>
<svg class="ic" style="left:32px;top:234px;color:#8e8e98" width="48" height="48" viewBox="0 0 24 24" fill="none" stroke="currentColor" stroke-width="2.0" stroke-linecap="round" stroke-linejoin="round"><path d="M12 2.8l2.85 5.9 6.45.9-4.7 4.5 1.15 6.4L12 17.45 6.25 20.5l1.15-6.4-4.7-4.5 6.45-.9z"/></svg>
<div id="actbar"></div>
<svg class="ic" style="left:32px;top:330px;color:#ccccdc" width="48" height="48" viewBox="0 0 24 24" fill="none" stroke="currentColor" stroke-width="2.0" stroke-linecap="round" stroke-linejoin="round"><rect x="3" y="3" width="7" height="7" rx=".6"/><rect x="14" y="3" width="7" height="7" rx=".6"/><rect x="3" y="14" width="7" height="7" rx=".6"/><rect x="14" y="14" width="7" height="7" rx=".6"/></svg>
<svg class="ic" style="left:32px;top:426px;color:#8e8e98" width="48" height="48" viewBox="0 0 24 24" fill="none" stroke="currentColor" stroke-width="2.0" stroke-linecap="round" stroke-linejoin="round"><circle cx="12" cy="12" r="9"/><path d="M12 3.5v1.8M12 18.7v1.8M3.500 12h1.8M18.7 12h1.8"/><path d="M15.6 8.4l-5.3 2-2 5.300 5.300-2z" fill="currentColor" stroke-width="1.2"/><circle cx="12" cy="12" r=".9" fill="#1b1c20" stroke="none"/></svg>
<svg class="ic" style="left:32px;top:522px;color:#8e8e98" width="48" height="48" viewBox="0 0 24 24" fill="none" stroke="currentColor" stroke-width="2.0" stroke-linecap="round" stroke-linejoin="round"><path d="M12 3v1.600"/><path d="M6.500 16v-5.500a5.500 5.500 0 0111 0V16"/><rect x="4.900" y="16" width="14.200" height="2.800" rx=".7"/><path d="M9.500 19.200a2.500 2.500 0 005 0"/></svg>
<svg class="ic" style="left:32px;top:1238px;color:#8e8e98" width="48" height="48" viewBox="0 0 24 24" fill="none" stroke="currentColor" stroke-width="2.0" stroke-linecap="round" stroke-linejoin="round"><circle cx="12" cy="12" r="3"/><path d="M10.16 5.14L10.34 3.05L13.66 3.05L13.84 5.14L15.55 5.85L17.15 4.50L19.50 6.85L18.15 8.45L18.86 10.16L20.95 10.34L20.95 13.66L18.86 13.84L18.15 15.55L19.50 17.15L17.15 19.50L15.55 18.15L13.84 18.86L13.66 20.95L10.34 20.95L10.16 18.86L8.45 18.15L6.85 19.50L4.50 17.15L5.85 15.55L5.14 13.84L3.05 13.66L3.05 10.34L5.14 10.16L5.85 8.45L4.50 6.85L6.85 4.50L8.45 5.85Z"/></svg>
<svg class="ic" style="left:32px;top:1334px;color:#8e8e98" width="48" height="48" viewBox="0 0 24 24" fill="none" stroke="currentColor" stroke-width="2.0" stroke-linecap="round" stroke-linejoin="round"><path d="M12 3.100C10.200 4.500 7.600 5.100 5.100 5.100V11.800C5.100 15.900 8 19 12 20.900C16 19 18.900 15.900 18.900 11.800V5.100C16.400 5.100 13.800 4.500 12 3.100Z"/></svg>
<svg class="ic" style="left:32px;top:1430px" width="48" height="48" viewBox="0 0 10 10"><defs><clipPath id="av"><circle cx="5" cy="5" r="5"/></clipPath></defs><g clip-path="url(#av)"><rect width="10" height="10" fill="#3d9430"/><rect x="3" y="2" width="4" height="1.030" fill="#ea8c80"/><rect x="3" y="4" width="1" height="1.030" fill="#ea8c80"/><rect x="6" y="4" width="1" height="1.030" fill="#ea8c80"/><rect x="1" y="5" width="8" height="1.030" fill="#ea8c80"/><rect x="1" y="6" width="2" height="1.030" fill="#ea8c80"/><rect x="4" y="6" width="2" height="1.030" fill="#ea8c80"/><rect x="7" y="6" width="2" height="1.030" fill="#ea8c80"/><rect x="1" y="7" width="3" height="1.030" fill="#ea8c80"/><rect x="6" y="7" width="3" height="1.030" fill="#ea8c80"/><rect x="1" y="8" width="1" height="1.030" fill="#ea8c80"/><rect x="4" y="8" width="2" height="1.030" fill="#ea8c80"/><rect x="8" y="8" width="1" height="1.030" fill="#ea8c80"/><rect x="1" y="9" width="1" height="1.030" fill="#ea8c80"/><rect x="4" y="9" width="2" height="1.030" fill="#ea8c80"/><rect x="8" y="9" width="1" height="1.030" fill="#ea8c80"/></g></svg>
<svg class="ic" style="left:32px;top:1526px;color:#8e8e98" width="48" height="48" viewBox="0 0 24 24" fill="none" stroke="currentColor" stroke-width="2.0" stroke-linecap="round" stroke-linejoin="round"><circle cx="12" cy="12" r="9"/><path d="M10.200 10a1.900 1.900 0 1 1 3 1.550c-.750.500-1.100.950-1.100 1.750" stroke-width="2.100"/><circle cx="12.100" cy="16" r="1.200" fill="currentColor" stroke="none"/></svg>
<div id="toggle"><svg class="ic" style="left:2.5px;top:3px;color:#ccccdc" width="38" height="38" viewBox="0 0 24 24" fill="none" stroke="currentColor" stroke-width="2.4" stroke-linecap="round" stroke-linejoin="round"><path d="M9.500 6.500L15 12l-5.500 5.500"/></svg></div>


<svg class="ic" style="left:146px;top:48px;color:#ccccdc" width="36" height="36" viewBox="0 0 24 24" fill="none" stroke="currentColor" stroke-width="1.7" stroke-linecap="round" stroke-linejoin="round"><rect x="3" y="3" width="7" height="7" rx=".6"/><rect x="14" y="3" width="7" height="7" rx=".6"/><rect x="3" y="14" width="7" height="7" rx=".6"/><rect x="14" y="14" width="7" height="7" rx=".6"/></svg>
<div id="t1">Production</div><div id="t2">/ Nginx Access Logs</div>
<svg class="ic" style="left:729.5px;top:48.5px;color:#ccccdc" width="35" height="35" viewBox="0 0 24 24" fill="none" stroke="currentColor" stroke-width="2.1" stroke-linecap="round" stroke-linejoin="round"><path d="M12 2.8l2.85 5.9 6.45.9-4.7 4.5 1.15 6.4L12 17.45 6.25 20.5l1.15-6.4-4.7-4.5 6.45-.9z"/></svg>
<svg class="ic" style="left:797px;top:48px;color:#ccccdc" width="36" height="36" viewBox="0 0 24 24" fill="none" stroke="currentColor" stroke-width="2.1" stroke-linecap="round" stroke-linejoin="round"><circle cx="17.800" cy="5.800" r="2.900"/><circle cx="6.200" cy="12" r="2.900"/><circle cx="17.800" cy="18.200" r="2.900"/><path d="M8.800 10.600l6.400-3.400M8.800 13.400l6.400 3.400"/></svg>
<div class="tb" style="left:1599px;width:84px"></div>
<svg class="ic" style="left:1616.800px;top:53px" width="50" height="26" viewBox="0 0 50 26"><defs><linearGradient id="pg" x1="0" y1="0" x2="0" y2="1"><stop offset="0" stop-color="#ee9448"/><stop offset="1" stop-color="#f6cf4a"/></linearGradient></defs><rect x="0" y="9.100" width="7" height="16.700" rx="1" fill="#8e8e98"/><rect x="8.700" y="4.100" width="7" height="21.700" rx="1" fill="#8e8e98"/><rect x="17.400" y="13.100" width="7" height="12.700" rx="1" fill="#8e8e98"/><rect x="26.100" y="0" width="7" height="25.800" rx="1" fill="#8e8e98"/><path d="M39.500 2.500v21M29 13h21" stroke="#1b1c21" stroke-width="9.500" stroke-linecap="butt"/><path d="M39.500 4.100v18M30.500 13.100h18" stroke="url(#pg)" stroke-width="6.200" stroke-linecap="butt"/></svg>
<div class="tb" style="left:1699px;width:72px"></div><svg class="ic" style="left:1718.5px;top:49.5px;color:#8e8e98" width="33" height="33" viewBox="0 0 24 24" fill="none" stroke="currentColor" stroke-width="2.2" stroke-linecap="round" stroke-linejoin="round"><path d="M4.500 3.500h11.500l4.500 4.500v11a1.500 1.500 0 01-1.500 1.500h-14a1.500 1.500 0 01-1.500-1.500v-14a1.500 1.500 0 011.500-1.500z"/><path d="M8 3.800v4.400h6.500V3.800M7.500 20.300v-6.500h9v6.500"/></svg>
<div class="tb" style="left:1787px;width:72px"></div><svg class="ic" style="left:1804.5px;top:47.5px;color:#8e8e98" width="37" height="37" viewBox="0 0 24 24" fill="none" stroke="currentColor" stroke-width="1.75" stroke-linecap="round" stroke-linejoin="round"><circle cx="12" cy="12" r="3"/><path d="M10.16 5.14L10.34 3.05L13.66 3.05L13.84 5.14L15.55 5.85L17.15 4.50L19.50 6.85L18.15 8.45L18.86 10.16L20.95 10.34L20.95 13.66L18.86 13.84L18.15 15.55L19.50 17.15L17.15 19.50L15.55 18.15L13.84 18.86L13.66 20.95L10.34 20.95L10.16 18.86L8.45 18.15L6.85 19.50L4.50 17.15L5.85 15.55L5.14 13.84L3.05 13.66L3.05 10.34L5.14 10.16L5.85 8.45L4.50 6.85L6.85 4.50L8.45 5.85Z"/></svg>
<div class="tb" style="left:1875px;width:895px"></div>
<div class="sep" style="left:1929px"></div><div class="sep" style="left:2644px"></div><div class="sep" style="left:2698px"></div>
<svg class="ic" style="left:1887px;top:50px;color:#8e8e98" width="32" height="32" viewBox="0 0 24 24" fill="none" stroke="currentColor" stroke-width="2.3" stroke-linecap="round" stroke-linejoin="round"><path d="M14.500 6.500L9 12l5.500 5.500"/></svg>
<svg class="ic" style="left:1947.6px;top:48.7px;color:#8e8e98" width="34.6" height="34.6" viewBox="0 0 24 24" fill="none" stroke="currentColor" stroke-width="2.1" stroke-linecap="round" stroke-linejoin="round"><circle cx="12" cy="12" r="9.300"/><path d="M12 7.700V12.300H8.600"/></svg>
<div id="tr">2023-01-08 00:00:00 to 2023-01-09 23:59:59</div>
<svg class="ic" style="left:2598px;top:52px;color:#8e8e98" width="28" height="28" viewBox="0 0 24 24" fill="none" stroke="currentColor" stroke-width="2.5" stroke-linecap="round" stroke-linejoin="round"><path d="M7 10l5 5 5-5"/></svg>
<svg class="ic" style="left:2656px;top:50px;color:#8e8e98" width="32" height="32" viewBox="0 0 24 24" fill="none" stroke="currentColor" stroke-width="2.3" stroke-linecap="round" stroke-linejoin="round"><path d="M9.500 6.500L15 12l-5.500 5.500"/></svg>
<svg class="ic" style="left:2717px;top:49px;color:#8e8e98" width="34" height="34" viewBox="0 0 24 24" fill="none" stroke="currentColor" stroke-width="2.1" stroke-linecap="round" stroke-linejoin="round"><circle cx="11" cy="11" r="8"/><path d="M17 17l5 5M7.500 11h7"/></svg>
<div class="tb" style="left:2786px;width:138px"></div><div class="sep" style="left:2856px"></div>
<svg class="ic" style="left:2804.5px;top:48.5px;color:#8e8e98" width="35" height="35" viewBox="0 0 24 24" fill="none" stroke="currentColor" stroke-width="2.1" stroke-linecap="round" stroke-linejoin="round"><path d="M3.2 3.800v5.400h5.400"/><path d="M20.800 20.200v-5.400h-5.400"/><path d="M3.600 9.200A9 9 0 0120.700 9.500M20.400 14.800A9 9 0 013.300 14.500"/></svg>
<svg class="ic" style="left:2876px;top:52px;color:#8e8e98" width="28" height="28" viewBox="0 0 24 24" fill="none" stroke="currentColor" stroke-width="2.5" stroke-linecap="round" stroke-linejoin="round"><path d="M7 10l5 5 5-5"/></svg>
<div class="tb" style="left:2940px;width:72px"></div><svg class="ic" style="left:2958px;top:48.5px;color:#8e8e98" width="36" height="36" viewBox="0 0 24 24" fill="none" stroke="currentColor" stroke-width="2.1" stroke-linecap="round" stroke-linejoin="round"><rect x="3" y="3.500" width="18" height="13" rx="1.500"/><path d="M3.500 12.500h17M8 20.500h8M10 17v3.200M14 17v3.200"/></svg>

<div id="topline"></div><div id="leftline"></div><div id="botline"></div><div id="corner"></div>
</div></body></html>
